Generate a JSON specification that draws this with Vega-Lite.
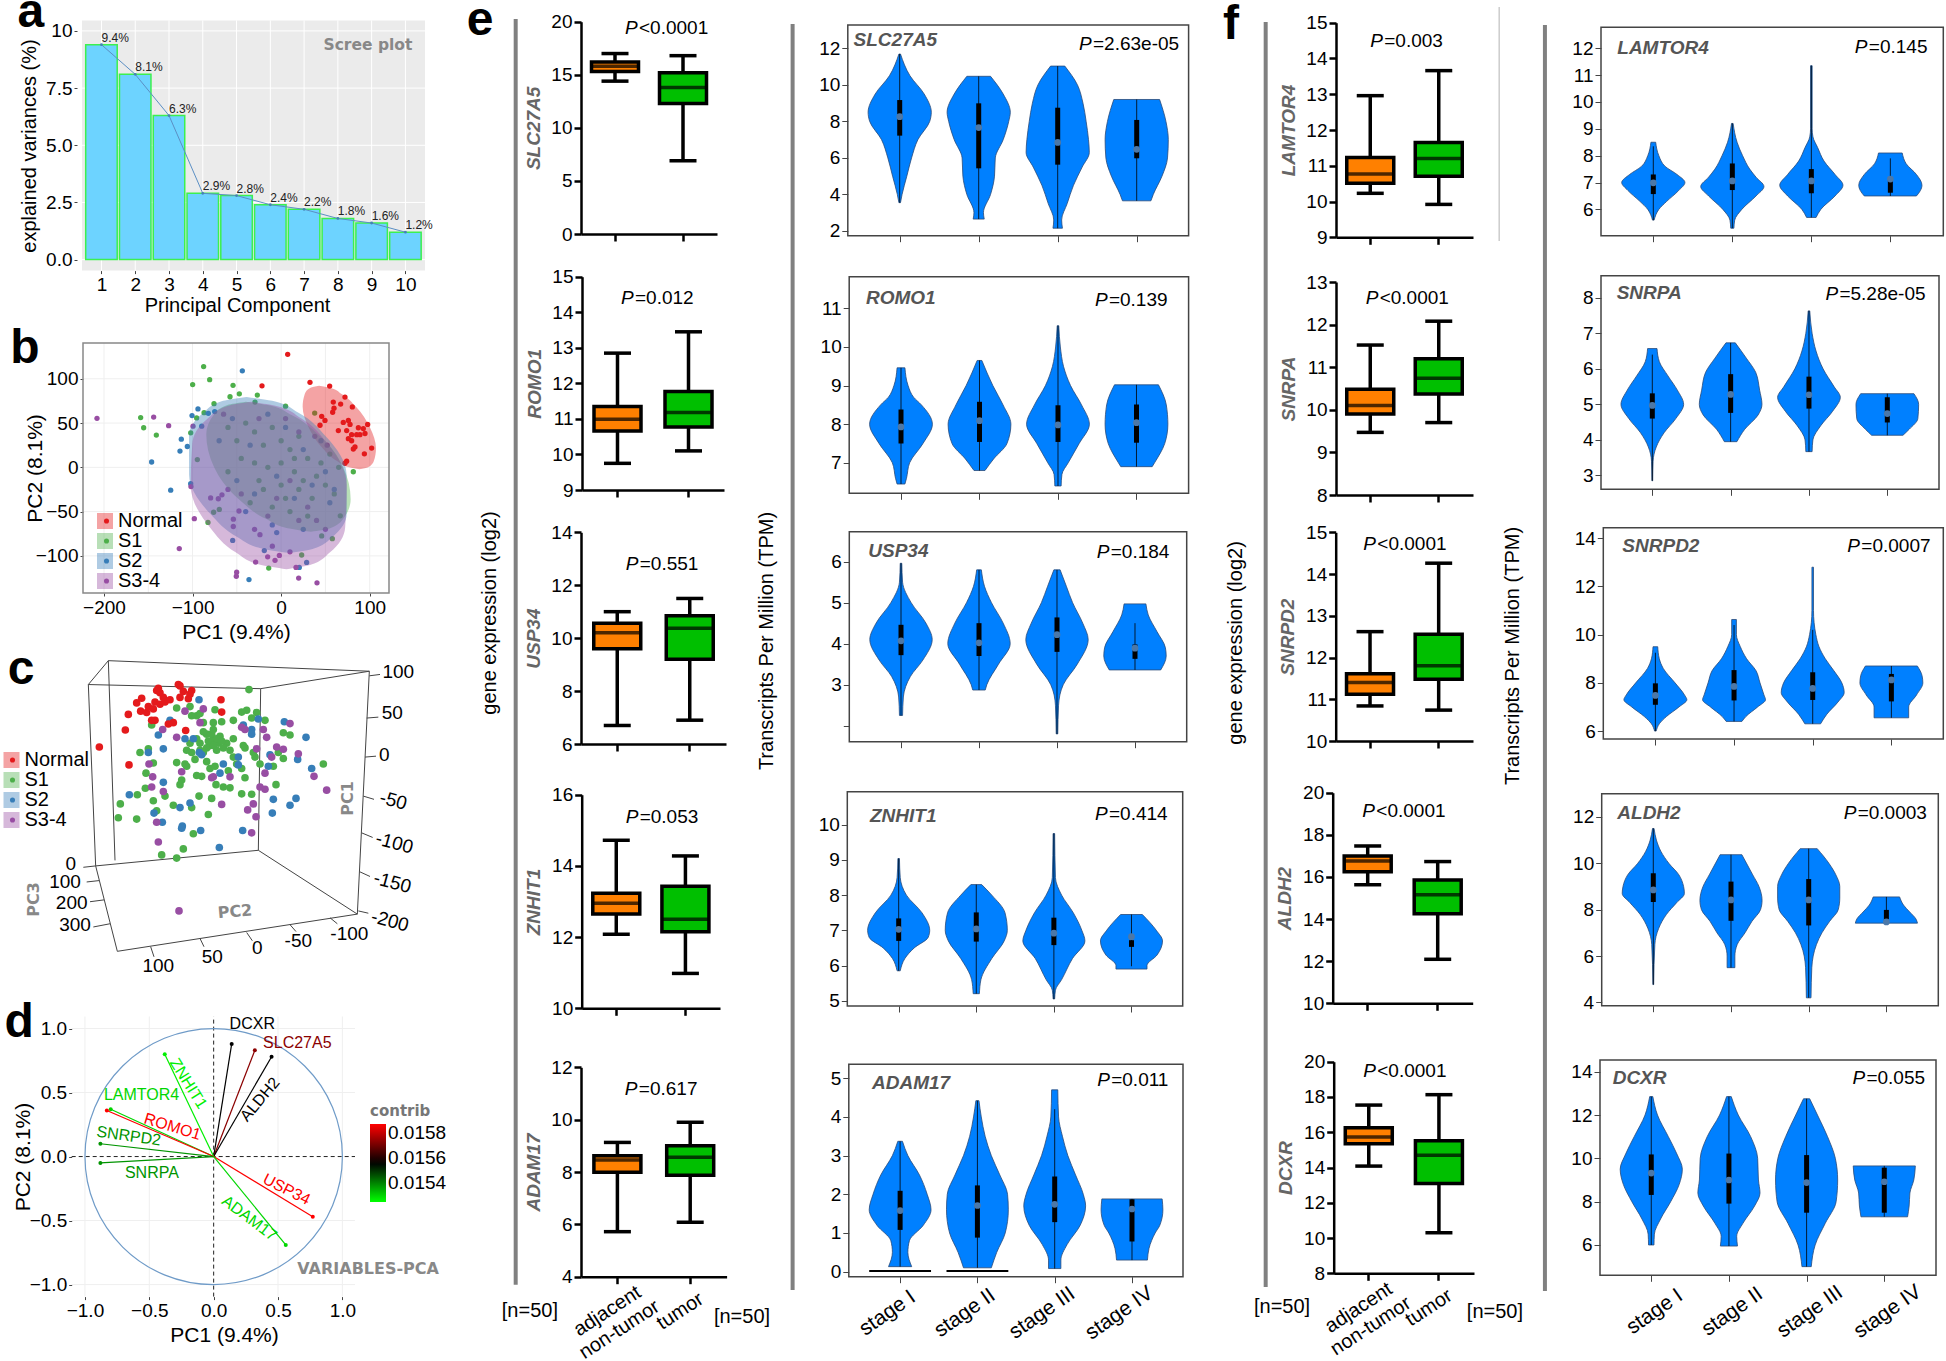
{"$schema":"https://vega.github.io/schema/vega-lite/v6.json","width":1946,"height":1361,"padding":0,"autosize":{"type":"none"},"background":"white",
"config":{"view":{"stroke":null},"font":"Liberation Sans","text":{"fontSize":19},
"axis":{"labelFontSize":19,"titleFontSize":19,"titleFontWeight":"normal","labelColor":"#000","titleColor":"#000","domainColor":"#000","tickColor":"#000","domainWidth":2.5,"tickWidth":2.5,"tickSize":7,"grid":false,"labelPadding":2},
"axisLeft":{"titleX":-38},
"boxplot":{"extent":"min-max","size":47,"box":{"stroke":"#000","strokeWidth":3.5},"median":{"color":"#000","thickness":3.5},"rule":{"color":"#000","strokeWidth":3.5},"ticks":{"color":"#000","size":27,"thickness":3.5}},
"area":{"fill":"#0080FF","stroke":"#2a4a78","strokeWidth":0.8,"orient":"horizontal","interpolate":"monotone"},
"style":{"va":{"domain":false,"tickWidth":1,"tickSize":6,"tickColor":"#444"},"ga":{"domain":false,"tickWidth":1,"tickSize":3,"tickColor":"#444"},"bxa":{"titleFontStyle":"italic","titleFontWeight":"bold","titleColor":"#666"},
"thin":{"stroke":"#111","strokeWidth":0.8},"thick":{"stroke":"#000","strokeWidth":5},"med":{"fill":"#fff","size":45,"opacity":1},
"gn":{"fontStyle":"italic","fontWeight":"bold","fontSize":20,"color":"#555","align":"left"},"pi":{"fontStyle":"italic","fontSize":21,"align":"left"},"pv":{"fontSize":21,"align":"left","dx":14}}},
"resolve":{"scale":{"x":"independent","y":"independent","color":"independent","fill":"independent","stroke":"independent"},"axis":{"x":"independent","y":"independent"},"legend":{"color":"independent","fill":"independent","stroke":"independent"}},
"layer":[
{"encoding":{"x":{"field":"px","type":"quantitative","scale":{"domain":[0,100],"range":[0,1946]},"axis":null},"y":{"field":"py","type":"quantitative","scale":{"domain":[0,100],"range":[0,1361]},"axis":null}},
"layer":[
{"data":{"values":[{"px":26.5,"py":1.4,"p2":94.4},{"px":40.73,"py":1.76,"p2":94.78},{"px":65.04,"py":1.62,"p2":94.56},{"px":79.39,"py":1.84,"p2":94.86}]},"mark":{"type":"rule","stroke":"#808080","strokeWidth":4},"encoding":{"y2":{"field":"p2"}}},
{"data":{"values":[{"px":77.04,"py":0.51,"p2":17.7}]},"mark":{"type":"rule","stroke":"#ccc","strokeWidth":1.5},"encoding":{"y2":{"field":"p2"}}},
{"data":{"values":[{"px":1.59,"py":1.98,"t":"a"},{"px":1.28,"py":26.67,"t":"b"},{"px":1.08,"py":50.26,"t":"c"},{"px":0.98,"py":76.2,"t":"d"},{"px":24.67,"py":2.57,"t":"e"},{"px":63.26,"py":2.87,"t":"f"}]},"mark":{"type":"text","fontSize":48,"fontWeight":"bold","baseline":"alphabetic"},"encoding":{"text":{"field":"t"}}},
{"data":{"values":[{"px":27.23,"py":96.33},{"px":38.13,"py":96.77},{"px":65.88,"py":96.03},{"px":76.82,"py":96.4}]},"mark":{"type":"text","fontSize":20},"encoding":{"text":{"value":"[n=50]"}}},
{"data":{"values":[{"px":25.18,"py":45.04,"t":"gene expression (log2)"},{"px":39.41,"py":47.1,"t":"Transcripts Per Million (TPM)"},{"px":63.51,"py":47.24,"t":"gene expression (log2)"},{"px":77.75,"py":48.2,"t":"Transcripts Per Million (TPM)"}]},"mark":{"type":"text","fontSize":20,"angle":270},"encoding":{"text":{"field":"t"}}}
]},
{"encoding":{"x":{"field":"x","type":"quantitative","scale":{"domain":[0.424,10.58],"range":[77,430]},"axis":{"orient":"bottom","offset":-1090.4,"title":"Principal Component","titleFontSize":20,"titleX":237,"titlePadding":1,"values":[1,2,3,4,5,6,7,8,9,10],"style":"ga"}},"y":{"field":"y","type":"quantitative","scale":{"domain":[-0.48,10.46],"range":[270.6,20.4]},"axis":{"orient":"left","offset":-77,"title":"explained variances (%)","titleFontSize":20,"values":[0,2.5,5,7.5,10],"format":".1f","labelExpr":"datum.value==10?'10':datum.label","style":"ga"}}},
"layer":[
{"data":{"values":[{"x":0.424,"x2":10.58,"y":-0.48,"y2":10.46}]},"mark":{"type":"rect","fill":"#EBEBEB"},"encoding":{"x2":{"field":"x2"},"y2":{"field":"y2"}}},
{"data":{"values":[{"x":1,"x2":1,"y":-0.48,"y2":10.46},{"x":2,"x2":2,"y":-0.48,"y2":10.46},{"x":3,"x2":3,"y":-0.48,"y2":10.46},{"x":4,"x2":4,"y":-0.48,"y2":10.46},{"x":5,"x2":5,"y":-0.48,"y2":10.46},{"x":6,"x2":6,"y":-0.48,"y2":10.46},{"x":7,"x2":7,"y":-0.48,"y2":10.46},{"x":8,"x2":8,"y":-0.48,"y2":10.46},{"x":9,"x2":9,"y":-0.48,"y2":10.46},{"x":10,"x2":10,"y":-0.48,"y2":10.46},{"x":0.424,"x2":10.58,"y":0,"y2":0},{"x":0.424,"x2":10.58,"y":2.5,"y2":2.5},{"x":0.424,"x2":10.58,"y":5,"y2":5},{"x":0.424,"x2":10.58,"y":7.5,"y2":7.5},{"x":0.424,"x2":10.58,"y":10,"y2":10}]},"mark":{"type":"rule","stroke":"#fff","strokeWidth":1},"encoding":{"x2":{"field":"x2"},"y2":{"field":"y2"}}},
{"data":{"values":[{"x":1,"y":9.4,"t":"9.4%"},{"x":2,"y":8.1,"t":"8.1%"},{"x":3,"y":6.3,"t":"6.3%"},{"x":4,"y":2.9,"t":"2.9%"},{"x":5,"y":2.8,"t":"2.8%"},{"x":6,"y":2.4,"t":"2.4%"},{"x":7,"y":2.2,"t":"2.2%"},{"x":8,"y":1.8,"t":"1.8%"},{"x":9,"y":1.6,"t":"1.6%"},{"x":10,"y":1.2,"t":"1.2%"}]},
"layer":[{"mark":{"type":"bar","orient":"vertical","size":31.5,"fill":"#6DD3FF","stroke":"#3CF04F","strokeWidth":1.5}},{"mark":{"type":"line","stroke":"#5b8fc4","strokeWidth":1}},{"mark":{"type":"circle","size":8,"fill":"#4682b4","opacity":1}},{"mark":{"type":"text","fontSize":12,"align":"left","dy":-7,"fill":"#222"},"encoding":{"text":{"field":"t"}}}]},
{"data":{"values":[{"x":8.89,"y":9.39}]},"mark":{"type":"text","font":"DejaVu Sans","fontWeight":"bold","fontSize":15.5,"fill":"#888"},"encoding":{"text":{"value":"Scree plot"}}}
]},
{"encoding":{"x":{"field":"x","type":"quantitative","scale":{"domain":[-223.7,121.8],"range":[83,389]},"axis":{"orient":"bottom","offset":-768,"title":"PC1 (9.4%)","titleFontSize":21,"values":[-200,-100,0,100],"style":"ga"}},"y":{"field":"y","type":"quantitative","scale":{"domain":[-141.9,140.5],"range":[593,342.9]},"axis":{"orient":"left","offset":-83,"title":"PC2 (8.1%)","titleFontSize":21,"values":[-100,-50,0,50,100],"style":"ga"}}},
"layer":[
{"data":{"values":[{"x":-200,"x2":-200,"y":-141.9,"y2":140.5},{"x":-150,"x2":-150,"y":-141.9,"y2":140.5},{"x":-100,"x2":-100,"y":-141.9,"y2":140.5},{"x":-50,"x2":-50,"y":-141.9,"y2":140.5},{"x":0,"x2":0,"y":-141.9,"y2":140.5},{"x":50,"x2":50,"y":-141.9,"y2":140.5},{"x":100,"x2":100,"y":-141.9,"y2":140.5},{"x":-223.7,"x2":121.8,"y":-100,"y2":-100},{"x":-223.7,"x2":121.8,"y":-50,"y2":-50},{"x":-223.7,"x2":121.8,"y":0,"y2":0},{"x":-223.7,"x2":121.8,"y":50,"y2":50},{"x":-223.7,"x2":121.8,"y":100,"y2":100}]},"mark":{"type":"rule","stroke":"#efefef","strokeWidth":1},"encoding":{"x2":{"field":"x2"},"y2":{"field":"y2"}}},
{"data":{"values":[{"g":"Normal","x":7.4,"y":127.6},{"g":"Normal","x":32.6,"y":96},{"g":"Normal","x":54.8,"y":91.7},{"g":"Normal","x":-21.6,"y":92},{"g":"Normal","x":45.8,"y":57.6},{"g":"Normal","x":49.5,"y":53},{"g":"Normal","x":43.9,"y":47.5},{"g":"Normal","x":58.9,"y":73.7},{"g":"Normal","x":59.7,"y":66.8},{"g":"Normal","x":67.2,"y":71.4},{"g":"Normal","x":72.1,"y":79.3},{"g":"Normal","x":80.4,"y":68.2},{"g":"Normal","x":58.2,"y":62.2},{"g":"Normal","x":64.6,"y":41.5},{"g":"Normal","x":70.2,"y":50.7},{"g":"Normal","x":75.9,"y":53},{"g":"Normal","x":77.8,"y":48.4},{"g":"Normal","x":74,"y":41.5},{"g":"Normal","x":75.9,"y":32.3},{"g":"Normal","x":79.6,"y":36.9},{"g":"Normal","x":87.2,"y":44.7},{"g":"Normal","x":92.8,"y":43.8},{"g":"Normal","x":97.7,"y":48.4},{"g":"Normal","x":94.7,"y":38.2},{"g":"Normal","x":85.3,"y":36.9},{"g":"Normal","x":89,"y":36.9},{"g":"Normal","x":83.4,"y":23},{"g":"Normal","x":81.5,"y":20.7},{"g":"Normal","x":94,"y":15.2},{"g":"Normal","x":102.2,"y":21.7},{"g":"Normal","x":74,"y":6.9},{"g":"Normal","x":72.1,"y":4.6},{"g":"Normal","x":79.6,"y":30},
{"g":"S1","x":-87.5,"y":113.8},{"g":"S1","x":-99.9,"y":93.5},{"g":"S1","x":-80.7,"y":99},{"g":"S1","x":-54.3,"y":92.6},{"g":"S1","x":-57.7,"y":79.7},{"g":"S1","x":-47.2,"y":83},{"g":"S1","x":-26.9,"y":81.6},{"g":"S1","x":-75.8,"y":71.9},{"g":"S1","x":-87,"y":61.7},{"g":"S1","x":-95.4,"y":55.8},{"g":"S1","x":-102.1,"y":39},{"g":"S1","x":-158.6,"y":56.2},{"g":"S1","x":-155.2,"y":44.7},{"g":"S1","x":-140.9,"y":36.4},{"g":"S1","x":-94.6,"y":8.8},{"g":"S1","x":-82.6,"y":-62.2},{"g":"S1","x":-76.2,"y":-50.7},{"g":"S1","x":-69.8,"y":-47.5},{"g":"S1","x":81.5,"y":-5},{"g":"S1","x":66.8,"y":-54.8},{"g":"S1","x":57.8,"y":-80.6},{"g":"S1","x":45.8,"y":-77.4},{"g":"S1","x":23.2,"y":-99},{"g":"S1","x":-14,"y":-113.8},{"g":"S1","x":37.9,"y":61.3},{"g":"S1","x":5,"y":69},{"g":"S1","x":-29.5,"y":73.7},{"g":"S1","x":-60,"y":45},{"g":"S1","x":-50,"y":30},{"g":"S1","x":-40,"y":50},{"g":"S1","x":-30,"y":40},{"g":"S1","x":-20,"y":25},{"g":"S1","x":-10,"y":45},{"g":"S1","x":0,"y":30},{"g":"S1","x":10,"y":20},{"g":"S1","x":20,"y":35},{"g":"S1","x":-45,"y":10},{"g":"S1","x":-30,"y":5},{"g":"S1","x":-15,"y":0},{"g":"S1","x":0,"y":5},{"g":"S1","x":15,"y":-5},{"g":"S1","x":30,"y":10},{"g":"S1","x":40,"y":-10},{"g":"S1","x":55,"y":15},{"g":"S1","x":65,"y":0},{"g":"S1","x":-60,"y":-5},{"g":"S1","x":-20,"y":-25},{"g":"S1","x":0,"y":-20},{"g":"S1","x":20,"y":-25},{"g":"S1","x":35,"y":-35},{"g":"S1","x":50,"y":-20},{"g":"S1","x":-35,"y":-40},{"g":"S1","x":-10,"y":-45},{"g":"S1","x":10,"y":-50},{"g":"S1","x":30,"y":-55},{"g":"S1","x":60,"y":-30},{"g":"S1","x":15,"y":10},{"g":"S1","x":5,"y":-35},{"g":"S1","x":-25,"y":-15},{"g":"S1","x":45,"y":5},{"g":"S1","x":25,"y":-15},
{"g":"S2","x":-43.8,"y":109},{"g":"S2","x":-93.9,"y":65.9},{"g":"S2","x":-100.6,"y":58.5},{"g":"S2","x":-82.2,"y":61},{"g":"S2","x":-75,"y":63},{"g":"S2","x":-89.7,"y":46.5},{"g":"S2","x":-112.7,"y":31.8},{"g":"S2","x":-114.2,"y":18.4},{"g":"S2","x":-105.9,"y":23.5},{"g":"S2","x":-146.2,"y":6},{"g":"S2","x":-124.7,"y":-25.8},{"g":"S2","x":-102.1,"y":-18.4},{"g":"S2","x":-36.3,"y":-126.7},{"g":"S2","x":-54.7,"y":-82.5},{"g":"S2","x":28.8,"y":-107.4},{"g":"S2","x":20.5,"y":-113},{"g":"S2","x":-19,"y":-94},{"g":"S2","x":-5,"y":-73.7},{"g":"S2","x":-70,"y":30},{"g":"S2","x":-55,"y":55},{"g":"S2","x":-35,"y":25},{"g":"S2","x":-15,"y":60},{"g":"S2","x":5,"y":45},{"g":"S2","x":25,"y":20},{"g":"S2","x":45,"y":30},{"g":"S2","x":60,"y":-25},{"g":"S2","x":-50,"y":-15},{"g":"S2","x":-30,"y":-30},{"g":"S2","x":-5,"y":-10},{"g":"S2","x":15,"y":-35},{"g":"S2","x":35,"y":-20},{"g":"S2","x":-40,"y":-50},{"g":"S2","x":-10,"y":-65},{"g":"S2","x":25,"y":-70},{"g":"S2","x":50,"y":-5},{"g":"S2","x":55,"y":-40},
{"g":"S3-4","x":-207.9,"y":55.3},{"g":"S3-4","x":-143.9,"y":56.7},{"g":"S3-4","x":-127,"y":47},{"g":"S3-4","x":-99.5,"y":46.5},{"g":"S3-4","x":-98,"y":-58},{"g":"S3-4","x":-115,"y":-91.7},{"g":"S3-4","x":-50.2,"y":-118.4},{"g":"S3-4","x":-50.6,"y":-123},{"g":"S3-4","x":19.8,"y":-125},{"g":"S3-4","x":40.5,"y":-130.4},{"g":"S3-4","x":16.8,"y":-113},{"g":"S3-4","x":-28.8,"y":-107},{"g":"S3-4","x":-6.9,"y":-105},{"g":"S3-4","x":-2,"y":-99.5},{"g":"S3-4","x":-15.2,"y":-101},{"g":"S3-4","x":-9.9,"y":-89},{"g":"S3-4","x":10,"y":-95.4},{"g":"S3-4","x":-23.9,"y":-76},{"g":"S3-4","x":-54,"y":-66.8},{"g":"S3-4","x":-53.9,"y":-58.5},{"g":"S3-4","x":-47.6,"y":-49.3},{"g":"S3-4","x":-66.8,"y":-31},{"g":"S3-4","x":-70.9,"y":-35.5},{"g":"S3-4","x":-79.6,"y":-34.6},{"g":"S3-4","x":-101.8,"y":-21.7},{"g":"S3-4","x":-65,"y":60},{"g":"S3-4","x":-45,"y":-30},{"g":"S3-4","x":-25,"y":55},{"g":"S3-4","x":5,"y":55},{"g":"S3-4","x":20,"y":40},{"g":"S3-4","x":38,"y":35},{"g":"S3-4","x":52,"y":25},{"g":"S3-4","x":-15,"y":-55},{"g":"S3-4","x":10,"y":-15},{"g":"S3-4","x":30,"y":-45},{"g":"S3-4","x":-5,"y":-35},{"g":"S3-4","x":-60,"y":-25},{"g":"S3-4","x":20,"y":-60},{"g":"S3-4","x":40,"y":-60},{"g":"S3-4","x":-30,"y":-70},{"g":"S3-4","x":50,"y":-70}]},
"mark":{"type":"circle","size":28,"opacity":1},"encoding":{"fill":{"field":"g","type":"nominal","scale":{"range":["#e41a1c","#4daf4a","#377eb8","#984ea3"]},"legend":{"orient":"none","legendX":96.5,"legendY":511,"title":null,"symbolType":"circle","symbolSize":26,"labelExpr":"''","labelFontSize":20,"rowPadding":-4.5}}}},
{"data":{"values":[{"g":"Normal","y":-2.2,"a":88.5,"b":88.5},{"g":"Normal","y":0.2,"a":76.6,"b":98.2},{"g":"Normal","y":7.2,"a":63.1,"b":104.7},{"g":"Normal","y":21.4,"a":47.1,"b":107.1},{"g":"Normal","y":45,"a":31.1,"b":100.3},{"g":"Normal","y":68.6,"a":24.3,"b":84.3},{"g":"Normal","y":82.8,"a":26.7,"b":68.3},{"g":"Normal","y":89.8,"a":33.2,"b":54.8},{"g":"Normal","y":92.2,"a":42.9,"b":42.9},
{"g":"S1","y":-72.8,"a":33.7,"b":33.7},{"g":"S1","y":-69.1,"a":9.2,"b":54.6},{"g":"S1","y":-58.1,"a":-17.3,"b":70.1},{"g":"S1","y":-36.1,"a":-47.7,"b":78.5},{"g":"S1","y":0.6,"a":-75.9,"b":69.9},{"g":"S1","y":37.3,"a":-84.5,"b":41.7},{"g":"S1","y":59.3,"a":-76.1,"b":11.3},{"g":"S1","y":70.3,"a":-60.6,"b":-15.2},{"g":"S1","y":74,"a":-39.7,"b":-39.7},
{"g":"S2","y":-96.5,"a":9,"b":9},{"g":"S2","y":-92.1,"a":-19.9,"b":35.5},{"g":"S2","y":-78.9,"a":-49.1,"b":57.5},{"g":"S2","y":-52.5,"a":-80,"b":74},{"g":"S2","y":-8.5,"a":-103.9,"b":73.9},{"g":"S2","y":35.5,"a":-104,"b":50},{"g":"S2","y":61.9,"a":-87.5,"b":19.1},{"g":"S2","y":75.1,"a":-65.5,"b":-10.1},{"g":"S2","y":79.5,"a":-39,"b":-39},
{"g":"S3-4","y":-115,"a":6,"b":6},{"g":"S3-4","y":-110.3,"a":-22.5,"b":32.5},{"g":"S3-4","y":-96.1,"a":-50.9,"b":54.9},{"g":"S3-4","y":-67.8,"a":-80.3,"b":72.3},{"g":"S3-4","y":-20.5,"a":-102.1,"b":74.1},{"g":"S3-4","y":26.8,"a":-100.3,"b":52.3},{"g":"S3-4","y":55.1,"a":-82.9,"b":22.9},{"g":"S3-4","y":69.3,"a":-60.5,"b":-5.5},{"g":"S3-4","y":74,"a":-34,"b":-34}]},
"mark":{"type":"area","stroke":null,"opacity":0.4},"encoding":{"x":{"field":"a","type":"quantitative"},"x2":{"field":"b"},"color":{"field":"g","type":"nominal","scale":{"range":["#e41a1c","#4daf4a","#377eb8","#984ea3"]},"legend":{"orient":"none","legendX":95,"legendY":511,"title":null,"symbolType":"square","symbolSize":256,"symbolOpacity":0.4,"labelFontSize":20,"labelOffset":3,"rowPadding":-4.5}}}},
{"data":{"values":[{"x":-223.7,"x2":121.8,"y":-141.9,"y2":140.5}]},"mark":{"type":"rect","fill":null,"stroke":"#888","strokeWidth":1.5},"encoding":{"x2":{"field":"x2"},"y2":{"field":"y2"}}}
]},
{"encoding":{"x":{"field":"u","type":"quantitative","scale":{"domain":[0,1380],"range":[0,460]},"axis":null},"y":{"field":"v","type":"quantitative","scale":{"domain":[0,720],"range":[640,970.6]},"axis":null}},
"layer":[
{"data":{"values":[{"u":265,"v":97,"u2":782,"v2":106},{"u":265,"v":97,"u2":325,"v2":45},{"u":325,"v":45,"u2":1108,"v2":68},{"u":782,"v":106,"u2":1108,"v2":68},{"u":782,"v":106,"u2":775,"v2":458},{"u":265,"v":97,"u2":287,"v2":492},{"u":325,"v":45,"u2":345,"v2":480},{"u":287,"v":492,"u2":775,"v2":458},{"u":775,"v":458,"u2":1072,"v2":597},{"u":1108,"v":68,"u2":1072,"v2":597},{"u":287,"v":492,"u2":352,"v2":678},{"u":352,"v":678,"u2":1072,"v2":597},{"u":1108,"v":78,"u2":1140,"v2":75},{"u":1100,"v":170,"u2":1135,"v2":168},{"u":1095,"v":255,"u2":1128,"v2":253},{"u":1090,"v":340,"u2":1122,"v2":347},{"u":1085,"v":420,"u2":1118,"v2":430},{"u":1080,"v":505,"u2":1110,"v2":515},{"u":1075,"v":590,"u2":1105,"v2":595},{"u":250,"v":495,"u2":287,"v2":492},{"u":260,"v":527,"u2":297,"v2":524},{"u":270,"v":570,"u2":312,"v2":566},{"u":280,"v":625,"u2":330,"v2":618},{"u":452,"v":668,"u2":462,"v2":690},{"u":600,"v":650,"u2":612,"v2":668},{"u":740,"v":637,"u2":757,"v2":655},{"u":870,"v":620,"u2":888,"v2":635},{"u":990,"v":605,"u2":1012,"v2":618}]},"mark":{"type":"rule","stroke":"#444","strokeWidth":1},"encoding":{"x2":{"field":"u2"},"y2":{"field":"v2"}}},
{"data":{"values":[{"g":"S1","u":747,"v":108},{"g":"S1","u":740,"v":153},{"g":"S1","u":725,"v":157},{"g":"S1","u":770,"v":158},{"g":"S1","u":755,"v":170},{"g":"S1","u":700,"v":175},{"g":"S1","u":665,"v":178},{"g":"S1","u":640,"v":180},{"g":"S1","u":645,"v":152},{"g":"S1","u":590,"v":165},{"g":"S1","u":600,"v":160},{"g":"S1","u":570,"v":145},{"g":"S1","u":530,"v":148},{"g":"S1","u":455,"v":185},{"g":"S1","u":420,"v":245},{"g":"S1","u":445,"v":237},{"g":"S1","u":460,"v":268},{"g":"S1","u":438,"v":290},{"g":"S1","u":436,"v":323},{"g":"S1","u":412,"v":337},{"g":"S1","u":361,"v":357},{"g":"S1","u":355,"v":387},{"g":"S1","u":410,"v":390},{"g":"S1","u":460,"v":350},{"g":"S1","u":470,"v":372},{"g":"S1","u":495,"v":340},{"g":"S1","u":520,"v":360},{"g":"S1","u":575,"v":365},{"g":"S1","u":597,"v":340},{"g":"S1","u":635,"v":345},{"g":"S1","u":625,"v":380},{"g":"S1","u":580,"v":422},{"g":"S1","u":550,"v":455},{"g":"S1","u":530,"v":475},{"g":"S1","u":485,"v":468},{"g":"S1","u":725,"v":335},{"g":"S1","u":755,"v":336},{"g":"S1","u":690,"v":322},{"g":"S1","u":670,"v":320},{"g":"S1","u":648,"v":315},{"g":"S1","u":605,"v":297},{"g":"S1","u":590,"v":295},{"g":"S1","u":560,"v":275},{"g":"S1","u":530,"v":267},{"g":"S1","u":540,"v":315},{"g":"S1","u":545,"v":305},{"g":"S1","u":600,"v":240},{"g":"S1","u":620,"v":205},{"g":"S1","u":640,"v":215},{"g":"S1","u":660,"v":210},{"g":"S1","u":650,"v":240},{"g":"S1","u":680,"v":225},{"g":"S1","u":620,"v":235},{"g":"S1","u":575,"v":245},{"g":"S1","u":560,"v":240},{"g":"S1","u":570,"v":225},{"g":"S1","u":610,"v":200},{"g":"S1","u":630,"v":230},{"g":"S1","u":655,"v":225},{"g":"S1","u":700,"v":255},{"g":"S1","u":735,"v":235},{"g":"S1","u":765,"v":255},{"g":"S1","u":780,"v":270},{"g":"S1","u":820,"v":275},{"g":"S1","u":850,"v":258},{"g":"S1","u":828,"v":315},{"g":"S1","u":835,"v":245},{"g":"S1","u":850,"v":202},{"g":"S1","u":870,"v":207},{"g":"S1","u":970,"v":270},{"g":"S1","u":795,"v":175},{"g":"S1","u":710,"v":270},{"g":"S1","u":735,"v":300},{"g":"S1","u":630,"v":280},{"g":"S1","u":590,"v":215},{"g":"S1","u":600,"v":225},{"g":"S1","u":635,"v":205},{"g":"S1","u":650,"v":215},{"g":"S1","u":665,"v":220},{"g":"S1","u":625,"v":220},{"g":"S1","u":640,"v":230},{"g":"S1","u":670,"v":235},{"g":"S1","u":690,"v":240},{"g":"S1","u":610,"v":245},{"g":"S1","u":585,"v":260},{"g":"S1","u":620,"v":265},{"g":"S1","u":645,"v":275},{"g":"S1","u":685,"v":285},{"g":"S1","u":725,"v":280},{"g":"S1","u":760,"v":245},{"g":"S1","u":555,"v":270},{"g":"S1","u":640,"v":195},{"g":"S1","u":700,"v":215},{"g":"S1","u":730,"v":230},{"g":"S1","u":575,"v":165},{"g":"S1","u":610,"v":180},
{"g":"S2","u":597,"v":130},{"g":"S2","u":475,"v":207},{"g":"S2","u":490,"v":237},{"g":"S2","u":445,"v":245},{"g":"S2","u":388,"v":337},{"g":"S2","u":462,"v":377},{"g":"S2","u":487,"v":397},{"g":"S2","u":547,"v":405},{"g":"S2","u":545,"v":410},{"g":"S2","u":602,"v":415},{"g":"S2","u":658,"v":452},{"g":"S2","u":728,"v":415},{"g":"S2","u":817,"v":377},{"g":"S2","u":870,"v":360},{"g":"S2","u":888,"v":345},{"g":"S2","u":820,"v":347},{"g":"S2","u":935,"v":280},{"g":"S2","u":918,"v":212},{"g":"S2","u":893,"v":260},{"g":"S2","u":853,"v":178},{"g":"S2","u":775,"v":172},{"g":"S2","u":755,"v":195},{"g":"S2","u":810,"v":250},{"g":"S2","u":805,"v":275},{"g":"S2","u":715,"v":272},{"g":"S2","u":660,"v":290},{"g":"S2","u":605,"v":250},{"g":"S2","u":555,"v":215},{"g":"S2","u":570,"v":355},{"g":"S2","u":540,"v":365},{"g":"S2","u":490,"v":310},{"g":"S2","u":755,"v":205},{"g":"S2","u":730,"v":185},{"g":"S2","u":580,"v":215},{"g":"S2","u":510,"v":175},{"g":"S2","u":598,"v":245},{"g":"S2","u":715,"v":255},{"g":"S2","u":670,"v":270},
{"g":"S3-4","u":537,"v":590},{"g":"S3-4","u":475,"v":440},{"g":"S3-4","u":470,"v":397},{"g":"S3-4","u":755,"v":420},{"g":"S3-4","u":768,"v":385},{"g":"S3-4","u":743,"v":370},{"g":"S3-4","u":760,"v":357},{"g":"S3-4","u":665,"v":358},{"g":"S3-4","u":490,"v":330},{"g":"S3-4","u":455,"v":320},{"g":"S3-4","u":447,"v":270},{"g":"S3-4","u":458,"v":298},{"g":"S3-4","u":488,"v":195},{"g":"S3-4","u":530,"v":212},{"g":"S3-4","u":555,"v":155},{"g":"S3-4","u":610,"v":150},{"g":"S3-4","u":600,"v":180},{"g":"S3-4","u":725,"v":190},{"g":"S3-4","u":790,"v":195},{"g":"S3-4","u":800,"v":212},{"g":"S3-4","u":770,"v":237},{"g":"S3-4","u":830,"v":233},{"g":"S3-4","u":850,"v":238},{"g":"S3-4","u":895,"v":248},{"g":"S3-4","u":815,"v":255},{"g":"S3-4","u":795,"v":290},{"g":"S3-4","u":780,"v":320},{"g":"S3-4","u":795,"v":325},{"g":"S3-4","u":942,"v":297},{"g":"S3-4","u":980,"v":327},{"g":"S3-4","u":870,"v":182},{"g":"S3-4","u":690,"v":298},{"g":"S3-4","u":635,"v":300},{"g":"S3-4","u":545,"v":287},{"g":"S3-4","u":735,"v":195},{"g":"S3-4","u":640,"v":298},
{"g":"Normal","u":298,"v":233},{"g":"Normal","u":387,"v":272},{"g":"Normal","u":376,"v":196},{"g":"Normal","u":385,"v":162},{"g":"Normal","u":410,"v":137},{"g":"Normal","u":425,"v":127},{"g":"Normal","u":422,"v":155},{"g":"Normal","u":440,"v":158},{"g":"Normal","u":445,"v":145},{"g":"Normal","u":460,"v":150},{"g":"Normal","u":470,"v":110},{"g":"Normal","u":480,"v":115},{"g":"Normal","u":490,"v":125},{"g":"Normal","u":465,"v":135},{"g":"Normal","u":480,"v":140},{"g":"Normal","u":495,"v":135},{"g":"Normal","u":510,"v":130},{"g":"Normal","u":540,"v":100},{"g":"Normal","u":535,"v":97},{"g":"Normal","u":550,"v":112},{"g":"Normal","u":575,"v":110},{"g":"Normal","u":565,"v":128},{"g":"Normal","u":570,"v":118},{"g":"Normal","u":540,"v":125},{"g":"Normal","u":520,"v":180},{"g":"Normal","u":505,"v":183},{"g":"Normal","u":465,"v":175},{"g":"Normal","u":455,"v":175},{"g":"Normal","u":557,"v":197},{"g":"Normal","u":663,"v":130},{"g":"Normal","u":665,"v":157},{"g":"Normal","u":475,"v":105}]},
"mark":{"type":"circle","size":58,"opacity":1},"encoding":{"fill":{"field":"g","type":"nominal","scale":{"domain":["Normal","S1","S2","S3-4"],"range":["#e41a1c","#4daf4a","#377eb8","#984ea3"]},"legend":{"orient":"none","legendX":2.5,"legendY":750,"title":null,"symbolType":"circle","symbolSize":26,"labelExpr":"''","labelFontSize":20,"rowPadding":-4.5}}}},
{"data":{"values":[{"g":"Normal","u":5,"v":5},{"g":"S1","u":5,"v":5},{"g":"S2","u":5,"v":5},{"g":"S3-4","u":5,"v":5}]},"mark":{"type":"square","opacity":0},"encoding":{"color":{"field":"g","type":"nominal","scale":{"range":["#e41a1c","#4daf4a","#377eb8","#984ea3"]},"legend":{"orient":"none","legendX":1.5,"legendY":750,"title":null,"symbolType":"square","symbolSize":256,"symbolOpacity":0.4,"labelFontSize":20,"labelOffset":3,"rowPadding":-4.5}}}},
{"data":{"values":[{"u":1195,"v":70,"t":"100"},{"u":1177,"v":160,"t":"50"},{"u":1153,"v":250,"t":"0"},{"u":212,"v":487,"t":"0"},{"u":195,"v":527,"t":"100"},{"u":215,"v":572,"t":"200"},{"u":225,"v":620,"t":"300"},{"u":475,"v":710,"t":"100"},{"u":637,"v":690,"t":"50"},{"u":772,"v":670,"t":"0"},{"u":895,"v":655,"t":"-50"},{"u":1048,"v":640,"t":"-100"}]},"mark":{"type":"text"},"encoding":{"text":{"field":"t"}}},
{"data":{"values":[{"u":1180,"v":350,"t":"-50"},{"u":1183,"v":442,"t":"-100"},{"u":1177,"v":528,"t":"-150"},{"u":1170,"v":612,"t":"-200"}]},"mark":{"type":"text","angle":15},"encoding":{"text":{"field":"t"}}},
{"data":{"values":[{"u":1045,"v":345,"t":"PC1"},{"u":103,"v":565,"t":"PC3"}]},"mark":{"type":"text","angle":270,"font":"DejaVu Sans","fontWeight":"bold","fontSize":16,"fill":"#888"},"encoding":{"text":{"field":"t"}}},
{"data":{"values":[{"u":705,"v":592,"t":"PC2"}]},"mark":{"type":"text","angle":355,"font":"DejaVu Sans","fontWeight":"bold","fontSize":16,"fill":"#888"},"encoding":{"text":{"field":"t"}}}
]},
{"encoding":{"x":{"field":"x","type":"quantitative","scale":{"domain":[-1.103,1.098],"range":[71.7,355]},"axis":{"orient":"bottom","offset":-64.4,"title":"PC1 (9.4%)","titleFontSize":21,"titleX":224,"values":[-1,-0.5,0,0.5,1],"format":".1f","style":"ga"}},"y":{"field":"y","type":"quantitative","scale":{"domain":[-1.094,1.094],"range":[1296.6,1016.5]},"axis":{"orient":"left","offset":-71.7,"title":"PC2 (8.1%)","titleFontSize":21,"values":[-1,-0.5,0,0.5,1],"format":".1f","style":"ga"}}},
"layer":[
{"data":{"values":[{"x":-1,"x2":-1,"y":-1.094,"y2":1.094},{"x":-0.5,"x2":-0.5,"y":-1.094,"y2":1.094},{"x":0.5,"x2":0.5,"y":-1.094,"y2":1.094},{"x":1,"x2":1,"y":-1.094,"y2":1.094},{"x":-1.103,"x2":1.098,"y":-1,"y2":-1},{"x":-1.103,"x2":1.098,"y":-0.5,"y2":-0.5},{"x":-1.103,"x2":1.098,"y":0.5,"y2":0.5},{"x":-1.103,"x2":1.098,"y":1,"y2":1}]},"mark":{"type":"rule","stroke":"#efefef","strokeWidth":1},"encoding":{"x2":{"field":"x2"},"y2":{"field":"y2"}}},
{"data":{"values":[{"x":0,"x2":0,"y":-1.094,"y2":1.094},{"x":-1.103,"x2":1.098,"y":0,"y2":0}]},"mark":{"type":"rule","stroke":"#222","strokeWidth":1,"strokeDash":[4,3]},"encoding":{"x2":{"field":"x2"},"y2":{"field":"y2"}}},
{"data":{"values":[{"o":0,"x":1,"y":0},{"o":1,"x":0.924,"y":0.383},{"o":2,"x":0.707,"y":0.707},{"o":3,"x":0.383,"y":0.924},{"o":4,"x":0,"y":1},{"o":5,"x":-0.383,"y":0.924},{"o":6,"x":-0.707,"y":0.707},{"o":7,"x":-0.924,"y":0.383},{"o":8,"x":-1,"y":0},{"o":9,"x":-0.924,"y":-0.383},{"o":10,"x":-0.707,"y":-0.707},{"o":11,"x":-0.383,"y":-0.924},{"o":12,"x":0,"y":-1},{"o":13,"x":0.383,"y":-0.924},{"o":14,"x":0.707,"y":-0.707},{"o":15,"x":0.924,"y":-0.383}]},"mark":{"type":"line","stroke":"#6f9bc8","strokeWidth":1.2,"interpolate":"cardinal-closed"},"encoding":{"order":{"field":"o"}}},
{"data":{"values":[{"x":0,"y":0,"x2":0.14,"y2":0.88,"c":0.01556},{"x":0,"y":0,"x2":0.32,"y2":0.83,"c":0.01573},{"x":0,"y":0,"x2":0.45,"y2":0.78,"c":0.01556},{"x":0,"y":0,"x2":-0.38,"y2":0.8,"c":0.01527},{"x":0,"y":0,"x2":-0.8,"y2":0.37,"c":0.0153},{"x":0,"y":0,"x2":-0.83,"y2":0.36,"c":0.01587},{"x":0,"y":0,"x2":-0.88,"y2":0.1,"c":0.01538},{"x":0,"y":0,"x2":-0.88,"y2":-0.05,"c":0.01538},{"x":0,"y":0,"x2":0.77,"y2":-0.47,"c":0.01587},{"x":0,"y":0,"x2":0.56,"y2":-0.69,"c":0.0153}]},
"layer":[{"mark":{"type":"rule","strokeWidth":1.2},"encoding":{"x2":{"field":"x2"},"y2":{"field":"y2"},"stroke":{"field":"c","type":"quantitative","scale":{"domain":[0.01525,0.01556,0.015871],"range":["#00ff00","#000000","#ff0000"],"interpolate":"rgb"},"legend":null}}},
{"mark":{"type":"circle","size":16,"opacity":1},"encoding":{"x":{"field":"x2","type":"quantitative"},"y":{"field":"y2","type":"quantitative"},"color":{"field":"c","type":"quantitative","scale":{"domain":[0.01525,0.01556,0.01587],"range":["#00ff00","#000000","#ff0000"],"interpolate":"rgb"},"legend":{"orient":"none","legendX":370,"legendY":1104,"type":"gradient","title":"contrib","titleColor":"#777","titleFontSize":15,"titleFont":"DejaVu Sans","titleFontWeight":"bold","gradientLength":78,"gradientThickness":16,"labelFontSize":19,"values":[0.0154,0.0156,0.0158],"format":".4f"}}}}]},
{"encoding":{"text":{"field":"t"},"fill":{"field":"c","type":"quantitative","scale":{"domain":[0.01525,0.01556,0.015872],"range":["#00ff00","#000000","#ff0000"],"interpolate":"rgb"},"legend":null}},"layer":[
{"data":{"values":[{"x":0.3,"y":1.036,"t":"DCXR","c":0.01556},{"x":0.65,"y":0.886,"t":"SLC27A5","c":0.01573},{"x":-0.56,"y":0.48,"t":"LAMTOR4","c":0.0153},{"x":-0.48,"y":-0.125,"t":"SNRPA","c":0.01538}]},"mark":{"type":"text","fontSize":16}},
{"data":{"values":[{"x":0.36,"y":0.446,"t":"ALDH2","c":0.01556}]},"mark":{"type":"text","fontSize":16,"angle":310}},
{"data":{"values":[{"x":-0.197,"y":0.57,"t":"ZNHIT1","c":0.01527}]},"mark":{"type":"text","fontSize":16,"angle":58}},
{"data":{"values":[{"x":-0.32,"y":0.232,"t":"ROMO1","c":0.01587}]},"mark":{"type":"text","fontSize":16,"angle":17}},
{"data":{"values":[{"x":-0.66,"y":0.16,"t":"SNRPD2","c":0.01538}]},"mark":{"type":"text","fontSize":16,"angle":8}},
{"data":{"values":[{"x":0.567,"y":-0.257,"t":"USP34","c":0.01587}]},"mark":{"type":"text","fontSize":16,"angle":27}},
{"data":{"values":[{"x":0.277,"y":-0.482,"t":"ADAM17","c":0.0153}]},"mark":{"type":"text","fontSize":16,"angle":37}}]},
{"data":{"values":[{"x":1.2,"y":-0.875}]},"mark":{"type":"text","font":"DejaVu Sans","fontWeight":"bold","fontSize":16,"fill":"#888"},"encoding":{"text":{"value":"VARIABLES-PCA"}}}
]},
{"data":{"values":[{"g":"adjacent","v":14.4},{"g":"adjacent","v":15.3},{"g":"adjacent","v":15.8},{"g":"adjacent","v":16.2},{"g":"adjacent","v":17},{"g":"tumor","v":6.9},{"g":"tumor","v":12.3},{"g":"tumor","v":13.8},{"g":"tumor","v":15.2},{"g":"tumor","v":16.8}]},"encoding":{"x":{"field":"g","type":"nominal","scale":{"type":"band","padding":0,"domain":["adjacent","tumor"],"range":[581,717]},"axis":{"orient":"bottom","offset":-1127,"title":null,"labels":false}},"y":{"field":"v","type":"quantitative","scale":{"domain":[0,20],"range":[234,21.7]},"axis":{"orient":"left","offset":-581,"title":"SLC27A5","style":"bxa","values":[0,5,10,15,20]}}},"layer":[{"mark":"boxplot","encoding":{"color":{"field":"g","type":"nominal","scale":{"range":["#FF8000","#00BF00"]},"legend":null}}},{"data":{"values":[{"g":"adjacent","v":19.44,"t":"<0.0001"}]},"layer":[{"mark":{"type":"text","style":"pi","dx":10},"encoding":{"text":{"value":"P"}}},{"mark":{"type":"text","style":"pv","dx":24},"encoding":{"text":{"field":"t"}}}]}]},
{"data":{"values":[{"g":"adjacent","v":9.75},{"g":"adjacent","v":10.66},{"g":"adjacent","v":10.99},{"g":"adjacent","v":11.35},{"g":"adjacent","v":12.85},{"g":"tumor","v":10.1},{"g":"tumor","v":10.77},{"g":"tumor","v":11.18},{"g":"tumor","v":11.77},{"g":"tumor","v":13.45}]},"encoding":{"x":{"field":"g","type":"nominal","scale":{"type":"band","padding":0,"domain":["adjacent","tumor"],"range":[582,724]},"axis":{"orient":"bottom","offset":-871,"title":null,"labels":false}},"y":{"field":"v","type":"quantitative","scale":{"domain":[9,15],"range":[490,276.7]},"axis":{"orient":"left","offset":-582,"title":"ROMO1","style":"bxa","values":[9,10,11,12,13,14,15]}}},"layer":[{"mark":"boxplot","encoding":{"color":{"field":"g","type":"nominal","scale":{"range":["#FF8000","#00BF00"]},"legend":null}}},{"data":{"values":[{"g":"adjacent","v":14.41,"t":"=0.012"}]},"layer":[{"mark":{"type":"text","style":"pi","dx":3.5},"encoding":{"text":{"value":"P"}}},{"mark":{"type":"text","style":"pv","dx":17.5},"encoding":{"text":{"field":"t"}}}]}]},
{"data":{"values":[{"g":"adjacent","v":6.7},{"g":"adjacent","v":9.6},{"g":"adjacent","v":10.2},{"g":"adjacent","v":10.56},{"g":"adjacent","v":11},{"g":"tumor","v":6.9},{"g":"tumor","v":9.2},{"g":"tumor","v":10.37},{"g":"tumor","v":10.85},{"g":"tumor","v":11.5}]},"encoding":{"x":{"field":"g","type":"nominal","scale":{"type":"band","padding":0,"domain":["adjacent","tumor"],"range":[581,726]},"axis":{"orient":"bottom","offset":-617,"title":null,"labels":false}},"y":{"field":"v","type":"quantitative","scale":{"domain":[6,14],"range":[744,532.3]},"axis":{"orient":"left","offset":-581,"title":"USP34","style":"bxa","values":[6,8,10,12,14]}}},"layer":[{"mark":"boxplot","encoding":{"color":{"field":"g","type":"nominal","scale":{"range":["#FF8000","#00BF00"]},"legend":null}}},{"data":{"values":[{"g":"adjacent","v":12.8,"t":"=0.551"}]},"layer":[{"mark":{"type":"text","style":"pi","dx":8.5},"encoding":{"text":{"value":"P"}}},{"mark":{"type":"text","style":"pv","dx":22.5},"encoding":{"text":{"field":"t"}}}]}]},
{"data":{"values":[{"g":"adjacent","v":12.08},{"g":"adjacent","v":12.65},{"g":"adjacent","v":12.95},{"g":"adjacent","v":13.23},{"g":"adjacent","v":14.72},{"g":"tumor","v":10.98},{"g":"tumor","v":12.15},{"g":"tumor","v":12.5},{"g":"tumor","v":13.43},{"g":"tumor","v":14.28}]},"encoding":{"x":{"field":"g","type":"nominal","scale":{"type":"band","padding":0,"domain":["adjacent","tumor"],"range":[581.7,720]},"axis":{"orient":"bottom","offset":-352.7,"title":null,"labels":false}},"y":{"field":"v","type":"quantitative","scale":{"domain":[10,16],"range":[1008.3,794.7]},"axis":{"orient":"left","offset":-581.7,"title":"ZNHIT1","style":"bxa","values":[10,12,14,16]}}},"layer":[{"mark":"boxplot","encoding":{"color":{"field":"g","type":"nominal","scale":{"range":["#FF8000","#00BF00"]},"legend":null}}},{"data":{"values":[{"g":"adjacent","v":15.38,"t":"=0.053"}]},"layer":[{"mark":{"type":"text","style":"pi","dx":9.4},"encoding":{"text":{"value":"P"}}},{"mark":{"type":"text","style":"pv","dx":23.4},"encoding":{"text":{"field":"t"}}}]}]},
{"data":{"values":[{"g":"adjacent","v":5.72},{"g":"adjacent","v":7.99},{"g":"adjacent","v":8.46},{"g":"adjacent","v":8.62},{"g":"adjacent","v":9.13},{"g":"tumor","v":6.08},{"g":"tumor","v":7.88},{"g":"tumor","v":8.56},{"g":"tumor","v":9},{"g":"tumor","v":9.9}]},"encoding":{"x":{"field":"g","type":"nominal","scale":{"type":"band","padding":0,"domain":["adjacent","tumor"],"range":[581,726.6]},"axis":{"orient":"bottom","offset":-84.3,"title":null,"labelAngle":-33,"labelAlign":"center","labelBaseline":"middle","labelFontSize":20,"labelOffset":-10,"labelPadding":27,"labelExpr":"datum.label=='tumor'?'tumor':['adjacent','non-tumor']"}},"y":{"field":"v","type":"quantitative","scale":{"domain":[4,12],"range":[1276.7,1067.3]},"axis":{"orient":"left","offset":-581,"title":"ADAM17","style":"bxa","values":[4,6,8,10,12]}}},"layer":[{"mark":"boxplot","encoding":{"color":{"field":"g","type":"nominal","scale":{"range":["#FF8000","#00BF00"]},"legend":null}}},{"data":{"values":[{"g":"adjacent","v":11.18,"t":"=0.617"}]},"layer":[{"mark":{"type":"text","style":"pi","dx":7.4},"encoding":{"text":{"value":"P"}}},{"mark":{"type":"text","style":"pv","dx":21.4},"encoding":{"text":{"field":"t"}}}]}]},
{"data":{"values":[{"g":"adjacent","v":10.23},{"g":"adjacent","v":10.51},{"g":"adjacent","v":10.77},{"g":"adjacent","v":11.23},{"g":"adjacent","v":12.96},{"g":"tumor","v":9.92},{"g":"tumor","v":10.71},{"g":"tumor","v":11.2},{"g":"tumor","v":11.65},{"g":"tumor","v":13.66}]},"encoding":{"x":{"field":"g","type":"nominal","scale":{"type":"band","padding":0,"domain":["adjacent","tumor"],"range":[1336,1473]},"axis":{"orient":"bottom","offset":-1123.7,"title":null,"labels":false}},"y":{"field":"v","type":"quantitative","scale":{"domain":[9,15],"range":[237.3,22.7]},"axis":{"orient":"left","offset":-1336,"title":"LAMTOR4","style":"bxa","values":[9,10,11,12,13,14,15]}}},"layer":[{"mark":"boxplot","encoding":{"color":{"field":"g","type":"nominal","scale":{"range":["#FF8000","#00BF00"]},"legend":null}}},{"data":{"values":[{"g":"adjacent","v":14.5,"t":"=0.003"}]},"layer":[{"mark":{"type":"text","style":"pi","dx":0},"encoding":{"text":{"value":"P"}}},{"mark":{"type":"text","style":"pv","dx":14},"encoding":{"text":{"field":"t"}}}]}]},
{"data":{"values":[{"g":"adjacent","v":9.47},{"g":"adjacent","v":9.9},{"g":"adjacent","v":10.1},{"g":"adjacent","v":10.48},{"g":"adjacent","v":11.52},{"g":"tumor","v":9.7},{"g":"tumor","v":10.37},{"g":"tumor","v":10.74},{"g":"tumor","v":11.2},{"g":"tumor","v":12.08}]},"encoding":{"x":{"field":"g","type":"nominal","scale":{"type":"band","padding":0,"domain":["adjacent","tumor"],"range":[1336,1473]},"axis":{"orient":"bottom","offset":-866,"title":null,"labels":false}},"y":{"field":"v","type":"quantitative","scale":{"domain":[8,13],"range":[495,282]},"axis":{"orient":"left","offset":-1336,"title":"SNRPA","style":"bxa","values":[8,9,10,11,12,13]}}},"layer":[{"mark":"boxplot","encoding":{"color":{"field":"g","type":"nominal","scale":{"range":["#FF8000","#00BF00"]},"legend":null}}},{"data":{"values":[{"g":"adjacent","v":12.63,"t":"<0.0001"}]},"layer":[{"mark":{"type":"text","style":"pi","dx":-4.6},"encoding":{"text":{"value":"P"}}},{"mark":{"type":"text","style":"pv","dx":9.4},"encoding":{"text":{"field":"t"}}}]}]},
{"data":{"values":[{"g":"adjacent","v":10.84},{"g":"adjacent","v":11.12},{"g":"adjacent","v":11.4},{"g":"adjacent","v":11.61},{"g":"adjacent","v":12.62},{"g":"tumor","v":10.74},{"g":"tumor","v":11.48},{"g":"tumor","v":11.8},{"g":"tumor","v":12.56},{"g":"tumor","v":14.26}]},"encoding":{"x":{"field":"g","type":"nominal","scale":{"type":"band","padding":0,"domain":["adjacent","tumor"],"range":[1335.7,1473]},"axis":{"orient":"bottom","offset":-620,"title":null,"labels":false}},"y":{"field":"v","type":"quantitative","scale":{"domain":[10,15],"range":[741,532.3]},"axis":{"orient":"left","offset":-1335.7,"title":"SNRPD2","style":"bxa","values":[10,11,12,13,14,15]}}},"layer":[{"mark":"boxplot","encoding":{"color":{"field":"g","type":"nominal","scale":{"range":["#FF8000","#00BF00"]},"legend":null}}},{"data":{"values":[{"g":"adjacent","v":14.71,"t":"<0.0001"}]},"layer":[{"mark":{"type":"text","style":"pi","dx":-6.7},"encoding":{"text":{"value":"P"}}},{"mark":{"type":"text","style":"pv","dx":7.3},"encoding":{"text":{"field":"t"}}}]}]},
{"data":{"values":[{"g":"adjacent","v":15.63},{"g":"adjacent","v":16.25},{"g":"adjacent","v":16.76},{"g":"adjacent","v":17},{"g":"adjacent","v":17.47},{"g":"tumor","v":12.09},{"g":"tumor","v":14.25},{"g":"tumor","v":15.15},{"g":"tumor","v":15.85},{"g":"tumor","v":16.73}]},"encoding":{"x":{"field":"g","type":"nominal","scale":{"type":"band","padding":0,"domain":["adjacent","tumor"],"range":[1332.7,1472.7]},"axis":{"orient":"bottom","offset":-357.7,"title":null,"labels":false}},"y":{"field":"v","type":"quantitative","scale":{"domain":[10,20],"range":[1003.3,792.7]},"axis":{"orient":"left","offset":-1332.7,"title":"ALDH2","style":"bxa","values":[10,12,14,16,18,20]}}},"layer":[{"mark":"boxplot","encoding":{"color":{"field":"g","type":"nominal","scale":{"range":["#FF8000","#00BF00"]},"legend":null}}},{"data":{"values":[{"g":"adjacent","v":19.13,"t":"<0.0001"}]},"layer":[{"mark":{"type":"text","style":"pi","dx":-5.4},"encoding":{"text":{"value":"P"}}},{"mark":{"type":"text","style":"pv","dx":8.6},"encoding":{"text":{"field":"t"}}}]}]},
{"data":{"values":[{"g":"adjacent","v":14.08},{"g":"adjacent","v":15.35},{"g":"adjacent","v":15.73},{"g":"adjacent","v":16.26},{"g":"adjacent","v":17.54},{"g":"tumor","v":10.3},{"g":"tumor","v":13.09},{"g":"tumor","v":14.7},{"g":"tumor","v":15.52},{"g":"tumor","v":18.13}]},"encoding":{"x":{"field":"g","type":"nominal","scale":{"type":"band","padding":0,"domain":["adjacent","tumor"],"range":[1333.7,1474]},"axis":{"orient":"bottom","offset":-87.7,"title":null,"labelAngle":-33,"labelAlign":"center","labelBaseline":"middle","labelFontSize":20,"labelOffset":-10,"labelPadding":27,"labelExpr":"datum.label=='tumor'?'tumor':['adjacent','non-tumor']"}},"y":{"field":"v","type":"quantitative","scale":{"domain":[8,20],"range":[1273.3,1061.7]},"axis":{"orient":"left","offset":-1333.7,"title":"DCXR","style":"bxa","values":[8,10,12,14,16,18,20]}}},"layer":[{"mark":"boxplot","encoding":{"color":{"field":"g","type":"nominal","scale":{"range":["#FF8000","#00BF00"]},"legend":null}}},{"data":{"values":[{"g":"adjacent","v":19.47,"t":"<0.0001"}]},"layer":[{"mark":{"type":"text","style":"pi","dx":-5.5},"encoding":{"text":{"value":"P"}}},{"mark":{"type":"text","style":"pv","dx":8.5},"encoding":{"text":{"field":"t"}}}]}]},
{"encoding":{"x":{"field":"a","type":"quantitative","scale":{"domain":[0.343,4.657],"range":[847.8,1188.6]},"axis":{"orient":"bottom","offset":-1125.3,"title":null,"values":[1,2,3,4],"labels":false,"style":"va"}},"y":{"field":"y","type":"quantitative","scale":{"domain":[1.74,13.28],"range":[235.7,25]},"axis":{"orient":"left","offset":-847.8,"title":null,"values":[2,4,6,8,10,12],"style":"va"}}},"layer":[
{"data":{"values":[{"a":0.343,"b":4.657,"y":1.74,"y2":13.28}]},"mark":{"type":"rect","fill":null,"stroke":"#444","strokeWidth":1.5},"encoding":{"x2":{"field":"b"},"y2":{"field":"y2"}}},
{"data":{"values":[{"s":1,"y":11.69,"a":0.99,"b":1.01},{"s":1,"y":10.5,"a":0.87,"b":1.13},{"s":1,"y":9.5,"a":0.69,"b":1.31},{"s":1,"y":8.5,"a":0.6,"b":1.4},{"s":1,"y":8,"a":0.62,"b":1.38},{"s":1,"y":7,"a":0.77,"b":1.23},{"s":1,"y":6,"a":0.85,"b":1.15},{"s":1,"y":5,"a":0.91,"b":1.09},{"s":1,"y":4,"a":0.97,"b":1.03},{"s":1,"y":3.55,"a":0.99,"b":1.01},
{"s":2,"y":10.47,"a":1.85,"b":2.15},{"s":2,"y":9.5,"a":1.69,"b":2.31},{"s":2,"y":8.5,"a":1.6,"b":2.4},{"s":2,"y":8,"a":1.62,"b":2.38},{"s":2,"y":7,"a":1.69,"b":2.31},{"s":2,"y":6,"a":1.79,"b":2.21},{"s":2,"y":5,"a":1.8,"b":2.2},{"s":2,"y":4,"a":1.85,"b":2.15},{"s":2,"y":3,"a":1.94,"b":2.06},{"s":2,"y":2.65,"a":1.93,"b":2.07},
{"s":3,"y":11.03,"a":2.91,"b":3.09},{"s":3,"y":10,"a":2.75,"b":3.25},{"s":3,"y":9,"a":2.68,"b":3.32},{"s":3,"y":8,"a":2.64,"b":3.36},{"s":3,"y":7,"a":2.61,"b":3.39},{"s":3,"y":6.3,"a":2.6,"b":3.4},{"s":3,"y":5.5,"a":2.69,"b":3.31},{"s":3,"y":4.5,"a":2.8,"b":3.2},{"s":3,"y":3.5,"a":2.88,"b":3.12},{"s":3,"y":2.6,"a":2.95,"b":3.05},{"s":3,"y":2.15,"a":2.94,"b":3.06},
{"s":4,"y":9.2,"a":3.71,"b":4.29},{"s":4,"y":8,"a":3.63,"b":4.37},{"s":4,"y":7,"a":3.6,"b":4.4},{"s":4,"y":6,"a":3.61,"b":4.39},{"s":4,"y":5,"a":3.68,"b":4.32},{"s":4,"y":4,"a":3.79,"b":4.21},{"s":4,"y":3.65,"a":3.82,"b":4.18}]},"mark":"area","encoding":{"x2":{"field":"b"},"detail":{"field":"s"}}},
{"data":{"values":[{"s":1,"lo":3.55,"q1":7.22,"m":8.26,"q3":9.17,"hi":11.69},{"s":2,"lo":2.65,"q1":5.43,"m":7.66,"q3":8.99,"hi":10.47},{"s":3,"lo":2.15,"q1":5.63,"m":6.85,"q3":8.75,"hi":11.03},{"s":4,"lo":3.65,"q1":5.98,"m":6.47,"q3":8.08,"hi":9.2}]},"encoding":{"x":{"field":"s","type":"quantitative"}},"layer":[{"mark":{"type":"rule","style":"thin"},"encoding":{"y":{"field":"lo","type":"quantitative"},"y2":{"field":"hi"}}},{"mark":{"type":"rule","style":"thick"},"encoding":{"y":{"field":"q1","type":"quantitative"},"y2":{"field":"q3"}}},{"mark":{"type":"circle","style":"med"},"encoding":{"y":{"field":"m","type":"quantitative"}}}]},
{"data":{"values":[{"a":0.416,"y":12.46,"t":"SLC27A5"}]},"mark":{"type":"text","style":"gn"},"encoding":{"text":{"field":"t"}}},
{"data":{"values":[{"a":3.27,"y":12.22,"t":"=2.63e-05"}]},"layer":[{"mark":{"type":"text","style":"pi"},"encoding":{"text":{"value":"P"}}},{"mark":{"type":"text","style":"pv"},"encoding":{"text":{"field":"t"}}}]}]},
{"encoding":{"x":{"field":"a","type":"quantitative","scale":{"domain":[0.34,4.664],"range":[849.2,1188.6]},"axis":{"orient":"bottom","offset":-867.7,"title":null,"values":[1,2,3,4],"labels":false,"style":"va"}},"y":{"field":"y","type":"quantitative","scale":{"domain":[6.21,11.82],"range":[493.3,276.7]},"axis":{"orient":"left","offset":-849.2,"title":null,"values":[7,8,9,10,11],"style":"va"}}},"layer":[
{"data":{"values":[{"a":0.34,"b":4.664,"y":6.21,"y2":11.82}]},"mark":{"type":"rect","fill":null,"stroke":"#444","strokeWidth":1.5},"encoding":{"x2":{"field":"b"},"y2":{"field":"y2"}}},
{"data":{"values":[{"s":1,"y":9.46,"a":0.95,"b":1.05},{"s":1,"y":9,"a":0.91,"b":1.09},{"s":1,"y":8.7,"a":0.84,"b":1.16},{"s":1,"y":8.5,"a":0.74,"b":1.26},{"s":1,"y":8,"a":0.6,"b":1.4},{"s":1,"y":7.5,"a":0.72,"b":1.28},{"s":1,"y":7,"a":0.89,"b":1.11},{"s":1,"y":6.6,"a":0.93,"b":1.07},{"s":1,"y":6.45,"a":0.95,"b":1.05},
{"s":2,"y":9.65,"a":1.97,"b":2.03},{"s":2,"y":9,"a":1.83,"b":2.17},{"s":2,"y":8.5,"a":1.7,"b":2.3},{"s":2,"y":8,"a":1.6,"b":2.4},{"s":2,"y":7.5,"a":1.65,"b":2.35},{"s":2,"y":7.1,"a":1.82,"b":2.18},{"s":2,"y":6.8,"a":1.93,"b":2.07},
{"s":3,"y":10.55,"a":2.99,"b":3.01},{"s":3,"y":10,"a":2.97,"b":3.03},{"s":3,"y":9.5,"a":2.93,"b":3.07},{"s":3,"y":9,"a":2.84,"b":3.16},{"s":3,"y":8.5,"a":2.7,"b":3.3},{"s":3,"y":8,"a":2.6,"b":3.4},{"s":3,"y":7.5,"a":2.73,"b":3.27},{"s":3,"y":7,"a":2.87,"b":3.13},{"s":3,"y":6.7,"a":2.95,"b":3.05},{"s":3,"y":6.4,"a":2.96,"b":3.04},
{"s":4,"y":9.02,"a":3.72,"b":4.28},{"s":4,"y":8.5,"a":3.62,"b":4.38},{"s":4,"y":8,"a":3.6,"b":4.4},{"s":4,"y":7.5,"a":3.64,"b":4.36},{"s":4,"y":7,"a":3.77,"b":4.23},{"s":4,"y":6.9,"a":3.8,"b":4.2}]},"mark":"area","encoding":{"x2":{"field":"b"},"detail":{"field":"s"}}},
{"data":{"values":[{"s":1,"lo":6.45,"q1":7.5,"m":7.93,"q3":8.38,"hi":9.46},{"s":2,"lo":6.8,"q1":7.54,"m":8.09,"q3":8.58,"hi":9.65},{"s":3,"lo":6.4,"q1":7.54,"m":7.98,"q3":8.49,"hi":10.55},{"s":4,"lo":6.9,"q1":7.52,"m":8.04,"q3":8.51,"hi":9.02}]},"encoding":{"x":{"field":"s","type":"quantitative"}},"layer":[{"mark":{"type":"rule","style":"thin"},"encoding":{"y":{"field":"lo","type":"quantitative"},"y2":{"field":"hi"}}},{"mark":{"type":"rule","style":"thick"},"encoding":{"y":{"field":"q1","type":"quantitative"},"y2":{"field":"q3"}}},{"mark":{"type":"circle","style":"med"},"encoding":{"y":{"field":"m","type":"quantitative"}}}]},
{"data":{"values":[{"a":0.554,"y":11.26,"t":"ROMO1"}]},"mark":{"type":"text","style":"gn"},"encoding":{"text":{"field":"t"}}},
{"data":{"values":[{"a":3.47,"y":11.22,"t":"=0.139"}]},"layer":[{"mark":{"type":"text","style":"pi"},"encoding":{"text":{"value":"P"}}},{"mark":{"type":"text","style":"pv"},"encoding":{"text":{"field":"t"}}}]}]},
{"encoding":{"x":{"field":"a","type":"quantitative","scale":{"domain":[0.337,4.663],"range":[849.3,1186.7]},"axis":{"orient":"bottom","offset":-619.3,"title":null,"values":[1,2,3,4],"labels":false,"style":"va"}},"y":{"field":"y","type":"quantitative","scale":{"domain":[1.61,6.73],"range":[741.7,531.7]},"axis":{"orient":"left","offset":-849.3,"title":null,"values":[2,3,4,5,6],"labelExpr":"datum.value==2?'':datum.label","style":"va"}}},"layer":[
{"data":{"values":[{"a":0.337,"b":4.663,"y":1.61,"y2":6.73}]},"mark":{"type":"rect","fill":null,"stroke":"#444","strokeWidth":1.5},"encoding":{"x2":{"field":"b"},"y2":{"field":"y2"}}},
{"data":{"values":[{"s":1,"y":5.96,"a":0.99,"b":1.01},{"s":1,"y":5.5,"a":0.98,"b":1.02},{"s":1,"y":5,"a":0.87,"b":1.13},{"s":1,"y":4.5,"a":0.68,"b":1.32},{"s":1,"y":4.1,"a":0.6,"b":1.4},{"s":1,"y":3.6,"a":0.72,"b":1.28},{"s":1,"y":3.2,"a":0.88,"b":1.12},{"s":1,"y":2.7,"a":0.97,"b":1.03},{"s":1,"y":2.25,"a":0.98,"b":1.02},
{"s":2,"y":5.8,"a":1.97,"b":2.03},{"s":2,"y":5.4,"a":1.93,"b":2.07},{"s":2,"y":5,"a":1.84,"b":2.16},{"s":2,"y":4.5,"a":1.69,"b":2.31},{"s":2,"y":4,"a":1.6,"b":2.4},{"s":2,"y":3.5,"a":1.75,"b":2.25},{"s":2,"y":3,"a":1.9,"b":2.1},{"s":2,"y":2.87,"a":1.92,"b":2.08},
{"s":3,"y":5.8,"a":2.96,"b":3.04},{"s":3,"y":5.4,"a":2.88,"b":3.12},{"s":3,"y":5,"a":2.8,"b":3.2},{"s":3,"y":4.5,"a":2.67,"b":3.33},{"s":3,"y":4.1,"a":2.6,"b":3.4},{"s":3,"y":3.5,"a":2.74,"b":3.26},{"s":3,"y":3,"a":2.92,"b":3.08},{"s":3,"y":2.5,"a":2.98,"b":3.02},{"s":3,"y":1.8,"a":2.99,"b":3.01},
{"s":4,"y":4.97,"a":3.86,"b":4.14},{"s":4,"y":4.7,"a":3.83,"b":4.17},{"s":4,"y":4.3,"a":3.72,"b":4.28},{"s":4,"y":3.9,"a":3.61,"b":4.39},{"s":4,"y":3.7,"a":3.6,"b":4.4},{"s":4,"y":3.36,"a":3.67,"b":4.33}]},"mark":"area","encoding":{"x2":{"field":"b"},"detail":{"field":"s"}}},
{"data":{"values":[{"s":1,"lo":2.25,"q1":3.72,"m":4.07,"q3":4.46,"hi":5.96},{"s":2,"lo":2.87,"q1":3.7,"m":4.02,"q3":4.5,"hi":5.8},{"s":3,"lo":1.8,"q1":3.8,"m":4.22,"q3":4.64,"hi":5.8},{"s":4,"lo":3.36,"q1":3.63,"m":3.89,"q3":3.98,"hi":4.5}]},"encoding":{"x":{"field":"s","type":"quantitative"}},"layer":[{"mark":{"type":"rule","style":"thin"},"encoding":{"y":{"field":"lo","type":"quantitative"},"y2":{"field":"hi"}}},{"mark":{"type":"rule","style":"thick"},"encoding":{"y":{"field":"q1","type":"quantitative"},"y2":{"field":"q3"}}},{"mark":{"type":"circle","style":"med"},"encoding":{"y":{"field":"m","type":"quantitative"}}}]},
{"data":{"values":[{"a":0.58,"y":6.27,"t":"USP34"}]},"mark":{"type":"text","style":"gn"},"encoding":{"text":{"field":"t"}}},
{"data":{"values":[{"a":3.51,"y":6.23,"t":"=0.184"}]},"layer":[{"mark":{"type":"text","style":"pi"},"encoding":{"text":{"value":"P"}}},{"mark":{"type":"text","style":"pv"},"encoding":{"text":{"field":"t"}}}]}]},
{"encoding":{"x":{"field":"a","type":"quantitative","scale":{"domain":[0.338,4.66],"range":[847.3,1182.7]},"axis":{"orient":"bottom","offset":-355,"title":null,"values":[1,2,3,4],"labels":false,"style":"va"}},"y":{"field":"y","type":"quantitative","scale":{"domain":[4.85,10.94],"range":[1006,791.7]},"axis":{"orient":"left","offset":-847.3,"title":null,"values":[5,6,7,8,9,10],"style":"va"}}},"layer":[
{"data":{"values":[{"a":0.338,"b":4.66,"y":4.85,"y2":10.94}]},"mark":{"type":"rect","fill":null,"stroke":"#444","strokeWidth":1.5},"encoding":{"x2":{"field":"b"},"y2":{"field":"y2"}}},
{"data":{"values":[{"s":1,"y":9.04,"a":0.99,"b":1.01},{"s":1,"y":8.5,"a":0.98,"b":1.02},{"s":1,"y":8,"a":0.9,"b":1.1},{"s":1,"y":7.5,"a":0.7,"b":1.3},{"s":1,"y":7,"a":0.6,"b":1.4},{"s":1,"y":6.8,"a":0.62,"b":1.38},{"s":1,"y":6.5,"a":0.8,"b":1.2},{"s":1,"y":6.2,"a":0.92,"b":1.08},{"s":1,"y":5.85,"a":0.98,"b":1.02},
{"s":2,"y":8.3,"a":1.93,"b":2.07},{"s":2,"y":8,"a":1.8,"b":2.2},{"s":2,"y":7.5,"a":1.63,"b":2.37},{"s":2,"y":7,"a":1.6,"b":2.4},{"s":2,"y":6.7,"a":1.64,"b":2.36},{"s":2,"y":6.2,"a":1.8,"b":2.2},{"s":2,"y":5.6,"a":1.94,"b":2.06},{"s":2,"y":5.2,"a":1.96,"b":2.04},
{"s":3,"y":9.75,"a":2.99,"b":3.01},{"s":3,"y":8.5,"a":2.98,"b":3.02},{"s":3,"y":8,"a":2.9,"b":3.1},{"s":3,"y":7.5,"a":2.75,"b":3.25},{"s":3,"y":7,"a":2.64,"b":3.36},{"s":3,"y":6.7,"a":2.6,"b":3.4},{"s":3,"y":6.2,"a":2.76,"b":3.24},{"s":3,"y":5.6,"a":2.9,"b":3.1},{"s":3,"y":5.3,"a":2.98,"b":3.02},{"s":3,"y":5.05,"a":2.99,"b":3.01},
{"s":4,"y":7.45,"a":3.86,"b":4.14},{"s":4,"y":7,"a":3.68,"b":4.32},{"s":4,"y":6.7,"a":3.6,"b":4.4},{"s":4,"y":6.3,"a":3.67,"b":4.33},{"s":4,"y":6,"a":3.8,"b":4.2},{"s":4,"y":5.9,"a":3.8,"b":4.2}]},"mark":"area","encoding":{"x2":{"field":"b"},"detail":{"field":"s"}}},
{"data":{"values":[{"s":1,"lo":5.85,"q1":6.7,"m":7.03,"q3":7.34,"hi":9.04},{"s":2,"lo":5.2,"q1":6.68,"m":7.04,"q3":7.51,"hi":8.3},{"s":3,"lo":5.05,"q1":6.58,"m":6.92,"q3":7.36,"hi":9.75},{"s":4,"lo":5.98,"q1":6.53,"m":6.82,"q3":6.72,"hi":7.45}]},"encoding":{"x":{"field":"s","type":"quantitative"}},"layer":[{"mark":{"type":"rule","style":"thin"},"encoding":{"y":{"field":"lo","type":"quantitative"},"y2":{"field":"hi"}}},{"mark":{"type":"rule","style":"thick"},"encoding":{"y":{"field":"q1","type":"quantitative"},"y2":{"field":"q3"}}},{"mark":{"type":"circle","style":"med"},"encoding":{"y":{"field":"m","type":"quantitative"}}}]},
{"data":{"values":[{"a":0.63,"y":10.25,"t":"ZNHIT1"}]},"mark":{"type":"text","style":"gn"},"encoding":{"text":{"field":"t"}}},
{"data":{"values":[{"a":3.53,"y":10.32,"t":"=0.414"}]},"layer":[{"mark":{"type":"text","style":"pi"},"encoding":{"text":{"value":"P"}}},{"mark":{"type":"text","style":"pv"},"encoding":{"text":{"field":"t"}}}]}]},
{"encoding":{"x":{"field":"a","type":"quantitative","scale":{"domain":[0.336,4.66],"range":[848.8,1183]},"axis":{"orient":"bottom","offset":-84.3,"title":null,"values":[1,2,3,4],"labelExpr":"['','stage I','stage II','stage III','stage IV'][datum.value]","labelAngle":-35,"labelAlign":"center","labelBaseline":"middle","labelFontSize":21,"labelOffset":-13,"labelPadding":30,"style":"va"}},"y":{"field":"y","type":"quantitative","scale":{"domain":[-0.13,5.36],"range":[1276.7,1064.3]},"axis":{"orient":"left","offset":-848.8,"title":null,"values":[0,1,2,3,4,5],"style":"va"}}},"layer":[
{"data":{"values":[{"a":0.336,"b":4.66,"y":-0.13,"y2":5.36}]},"mark":{"type":"rect","fill":null,"stroke":"#444","strokeWidth":1.5},"encoding":{"x2":{"field":"b"},"y2":{"field":"y2"}}},
{"data":{"values":[{"a":0.6,"b":1.4,"y":0.02},{"a":1.6,"b":2.4,"y":0.02}]},"mark":{"type":"rule","stroke":"#000","strokeWidth":2},"encoding":{"x2":{"field":"b"}}},
{"data":{"values":[{"s":1,"y":3.37,"a":0.97,"b":1.03},{"s":1,"y":3,"a":0.9,"b":1.1},{"s":1,"y":2.5,"a":0.75,"b":1.25},{"s":1,"y":2,"a":0.65,"b":1.35},{"s":1,"y":1.6,"a":0.6,"b":1.4},{"s":1,"y":1.2,"a":0.7,"b":1.3},{"s":1,"y":0.8,"a":0.88,"b":1.12},{"s":1,"y":0.5,"a":0.9,"b":1.1},{"s":1,"y":0.13,"a":0.85,"b":1.15},
{"s":2,"y":4.42,"a":1.98,"b":2.02},{"s":2,"y":4,"a":1.95,"b":2.05},{"s":2,"y":3.5,"a":1.9,"b":2.1},{"s":2,"y":3,"a":1.82,"b":2.18},{"s":2,"y":2.5,"a":1.71,"b":2.29},{"s":2,"y":2,"a":1.61,"b":2.39},{"s":2,"y":1.6,"a":1.6,"b":2.4},{"s":2,"y":1,"a":1.64,"b":2.36},{"s":2,"y":0.5,"a":1.75,"b":2.25},{"s":2,"y":0.1,"a":1.82,"b":2.18},
{"s":3,"y":4.7,"a":2.96,"b":3.04},{"s":3,"y":4,"a":2.95,"b":3.05},{"s":3,"y":3.5,"a":2.9,"b":3.1},{"s":3,"y":3,"a":2.83,"b":3.17},{"s":3,"y":2.5,"a":2.73,"b":3.27},{"s":3,"y":2,"a":2.63,"b":3.37},{"s":3,"y":1.7,"a":2.6,"b":3.4},{"s":3,"y":1.2,"a":2.67,"b":3.33},{"s":3,"y":0.7,"a":2.84,"b":3.16},{"s":3,"y":0.3,"a":2.92,"b":3.08},{"s":3,"y":0.08,"a":2.92,"b":3.08},
{"s":4,"y":1.88,"a":3.61,"b":4.39},{"s":4,"y":1.6,"a":3.6,"b":4.4},{"s":4,"y":1.2,"a":3.64,"b":4.36},{"s":4,"y":1,"a":3.7,"b":4.3},{"s":4,"y":0.6,"a":3.78,"b":4.22},{"s":4,"y":0.3,"a":3.8,"b":4.2}]},"mark":"area","encoding":{"x2":{"field":"b"},"detail":{"field":"s"}}},
{"data":{"values":[{"s":1,"lo":0.13,"q1":1.08,"m":1.58,"q3":2.09,"hi":3.37},{"s":2,"lo":0.1,"q1":0.88,"m":1.71,"q3":2.23,"hi":4.42},{"s":3,"lo":0.08,"q1":1.28,"m":1.74,"q3":2.46,"hi":4.2},{"s":4,"lo":0.3,"q1":0.78,"m":1.62,"q3":1.87,"hi":1.88}]},"encoding":{"x":{"field":"s","type":"quantitative"}},"layer":[{"mark":{"type":"rule","style":"thin"},"encoding":{"y":{"field":"lo","type":"quantitative"},"y2":{"field":"hi"}}},{"mark":{"type":"rule","style":"thick"},"encoding":{"y":{"field":"q1","type":"quantitative"},"y2":{"field":"q3"}}},{"mark":{"type":"circle","style":"med"},"encoding":{"y":{"field":"m","type":"quantitative"}}}]},
{"data":{"values":[{"a":0.636,"y":4.87,"t":"ADAM17"}]},"mark":{"type":"text","style":"gn"},"encoding":{"text":{"field":"t"}}},
{"data":{"values":[{"a":3.55,"y":4.96,"t":"=0.011"}]},"layer":[{"mark":{"type":"text","style":"pi"},"encoding":{"text":{"value":"P"}}},{"mark":{"type":"text","style":"pv"},"encoding":{"text":{"field":"t"}}}]}]},
{"encoding":{"x":{"field":"a","type":"quantitative","scale":{"domain":[0.338,4.67],"range":[1601,1943.3]},"axis":{"orient":"bottom","offset":-1125.3,"title":null,"values":[1,2,3,4],"labels":false,"style":"va"}},"y":{"field":"y","type":"quantitative","scale":{"domain":[5.02,12.78],"range":[235.7,27.3]},"axis":{"orient":"left","offset":-1601,"title":null,"values":[6,7,8,9,10,11,12],"style":"va"}}},"layer":[
{"data":{"values":[{"a":0.338,"b":4.67,"y":5.02,"y2":12.78}]},"mark":{"type":"rect","fill":null,"stroke":"#444","strokeWidth":1.5},"encoding":{"x2":{"field":"b"},"y2":{"field":"y2"}}},
{"data":{"values":[{"s":1,"y":8.5,"a":0.97,"b":1.03},{"s":1,"y":8,"a":0.93,"b":1.07},{"s":1,"y":7.6,"a":0.85,"b":1.15},{"s":1,"y":7.3,"a":0.7,"b":1.3},{"s":1,"y":7,"a":0.6,"b":1.4},{"s":1,"y":6.7,"a":0.68,"b":1.32},{"s":1,"y":6.3,"a":0.83,"b":1.17},{"s":1,"y":6,"a":0.93,"b":1.07},{"s":1,"y":5.6,"a":0.99,"b":1.01},
{"s":2,"y":9.2,"a":1.99,"b":2.01},{"s":2,"y":8.5,"a":1.94,"b":2.06},{"s":2,"y":8,"a":1.87,"b":2.13},{"s":2,"y":7.5,"a":1.78,"b":2.22},{"s":2,"y":7.2,"a":1.7,"b":2.3},{"s":2,"y":6.85,"a":1.6,"b":2.4},{"s":2,"y":6.5,"a":1.7,"b":2.3},{"s":2,"y":6,"a":1.88,"b":2.12},{"s":2,"y":5.6,"a":1.97,"b":2.03},{"s":2,"y":5.3,"a":1.98,"b":2.02},
{"s":3,"y":11.35,"a":2.99,"b":3.01},{"s":3,"y":9,"a":2.99,"b":3.01},{"s":3,"y":8.7,"a":2.98,"b":3.02},{"s":3,"y":8.3,"a":2.92,"b":3.08},{"s":3,"y":7.8,"a":2.84,"b":3.16},{"s":3,"y":7.3,"a":2.7,"b":3.3},{"s":3,"y":6.9,"a":2.6,"b":3.4},{"s":3,"y":6.5,"a":2.7,"b":3.3},{"s":3,"y":6,"a":2.88,"b":3.12},{"s":3,"y":5.7,"a":2.94,"b":3.06},
{"s":4,"y":8.1,"a":3.85,"b":4.15},{"s":4,"y":7.7,"a":3.8,"b":4.2},{"s":4,"y":7.3,"a":3.67,"b":4.33},{"s":4,"y":6.9,"a":3.6,"b":4.4},{"s":4,"y":6.7,"a":3.62,"b":4.38},{"s":4,"y":6.5,"a":3.67,"b":4.33}]},"mark":"area","encoding":{"x2":{"field":"b"},"detail":{"field":"s"}}},
{"data":{"values":[{"s":1,"lo":5.6,"q1":6.57,"m":6.99,"q3":7.3,"hi":8.35},{"s":2,"lo":5.3,"q1":6.72,"m":7.06,"q3":7.71,"hi":9.2},{"s":3,"lo":5.7,"q1":6.6,"m":7.06,"q3":7.5,"hi":11.35},{"s":4,"lo":6.5,"q1":6.62,"m":7.13,"q3":7.1,"hi":7.9}]},"encoding":{"x":{"field":"s","type":"quantitative"}},"layer":[{"mark":{"type":"rule","style":"thin"},"encoding":{"y":{"field":"lo","type":"quantitative"},"y2":{"field":"hi"}}},{"mark":{"type":"rule","style":"thick"},"encoding":{"y":{"field":"q1","type":"quantitative"},"y2":{"field":"q3"}}},{"mark":{"type":"circle","style":"med"},"encoding":{"y":{"field":"m","type":"quantitative"}}}]},
{"data":{"values":[{"a":0.544,"y":12.02,"t":"LAMTOR4"}]},"mark":{"type":"text","style":"gn"},"encoding":{"text":{"field":"t"}}},
{"data":{"values":[{"a":3.55,"y":12.06,"t":"=0.145"}]},"layer":[{"mark":{"type":"text","style":"pi"},"encoding":{"text":{"value":"P"}}},{"mark":{"type":"text","style":"pv"},"encoding":{"text":{"field":"t"}}}]}]},
{"encoding":{"x":{"field":"a","type":"quantitative","scale":{"domain":[0.345,4.66],"range":[1601,1939]},"axis":{"orient":"bottom","offset":-871.7,"title":null,"values":[1,2,3,4],"labels":false,"style":"va"}},"y":{"field":"y","type":"quantitative","scale":{"domain":[2.61,8.62],"range":[489.3,275.7]},"axis":{"orient":"left","offset":-1601,"title":null,"values":[3,4,5,6,7,8],"style":"va"}}},"layer":[
{"data":{"values":[{"a":0.345,"b":4.66,"y":2.61,"y2":8.62}]},"mark":{"type":"rect","fill":null,"stroke":"#444","strokeWidth":1.5},"encoding":{"x2":{"field":"b"},"y2":{"field":"y2"}}},
{"data":{"values":[{"s":1,"y":6.57,"a":0.94,"b":1.06},{"s":1,"y":6.2,"a":0.91,"b":1.09},{"s":1,"y":5.8,"a":0.8,"b":1.2},{"s":1,"y":5.4,"a":0.68,"b":1.32},{"s":1,"y":5,"a":0.6,"b":1.4},{"s":1,"y":4.6,"a":0.7,"b":1.3},{"s":1,"y":4.2,"a":0.85,"b":1.15},{"s":1,"y":3.8,"a":0.95,"b":1.05},{"s":1,"y":3.4,"a":0.99,"b":1.01},{"s":1,"y":2.85,"a":0.995,"b":1.005},
{"s":2,"y":6.73,"a":1.94,"b":2.06},{"s":2,"y":6.3,"a":1.8,"b":2.2},{"s":2,"y":5.9,"a":1.68,"b":2.32},{"s":2,"y":5.4,"a":1.63,"b":2.37},{"s":2,"y":5,"a":1.6,"b":2.4},{"s":2,"y":4.7,"a":1.65,"b":2.35},{"s":2,"y":4.3,"a":1.82,"b":2.18},{"s":2,"y":3.95,"a":1.92,"b":2.08},
{"s":3,"y":7.63,"a":2.99,"b":3.01},{"s":3,"y":7,"a":2.96,"b":3.04},{"s":3,"y":6.5,"a":2.91,"b":3.09},{"s":3,"y":6,"a":2.82,"b":3.18},{"s":3,"y":5.5,"a":2.68,"b":3.32},{"s":3,"y":5.2,"a":2.6,"b":3.4},{"s":3,"y":4.8,"a":2.7,"b":3.3},{"s":3,"y":4.4,"a":2.85,"b":3.15},{"s":3,"y":4,"a":2.95,"b":3.05},{"s":3,"y":3.67,"a":2.96,"b":3.04},
{"s":4,"y":5.3,"a":3.66,"b":4.34},{"s":4,"y":5,"a":3.6,"b":4.4},{"s":4,"y":4.6,"a":3.61,"b":4.39},{"s":4,"y":4.3,"a":3.72,"b":4.28},{"s":4,"y":4.13,"a":3.8,"b":4.2}]},"mark":"area","encoding":{"x2":{"field":"b"},"detail":{"field":"s"}}},
{"data":{"values":[{"s":1,"lo":2.85,"q1":4.6,"m":4.97,"q3":5.31,"hi":6.4},{"s":2,"lo":3.95,"q1":4.76,"m":5.28,"q3":5.85,"hi":6.73},{"s":3,"lo":3.67,"q1":4.88,"m":5.27,"q3":5.78,"hi":7.63},{"s":4,"lo":4.13,"q1":4.49,"m":4.74,"q3":5.2,"hi":5.3}]},"encoding":{"x":{"field":"s","type":"quantitative"}},"layer":[{"mark":{"type":"rule","style":"thin"},"encoding":{"y":{"field":"lo","type":"quantitative"},"y2":{"field":"hi"}}},{"mark":{"type":"rule","style":"thick"},"encoding":{"y":{"field":"q1","type":"quantitative"},"y2":{"field":"q3"}}},{"mark":{"type":"circle","style":"med"},"encoding":{"y":{"field":"m","type":"quantitative"}}}]},
{"data":{"values":[{"a":0.545,"y":8.12,"t":"SNRPA"}]},"mark":{"type":"text","style":"gn"},"encoding":{"text":{"field":"t"}}},
{"data":{"values":[{"a":3.21,"y":8.1,"t":"=5.28e-05"}]},"layer":[{"mark":{"type":"text","style":"pi"},"encoding":{"text":{"value":"P"}}},{"mark":{"type":"text","style":"pv"},"encoding":{"text":{"field":"t"}}}]}]},
{"encoding":{"x":{"field":"a","type":"quantitative","scale":{"domain":[0.338,4.66],"range":[1603.3,1943.3]},"axis":{"orient":"bottom","offset":-622,"title":null,"values":[1,2,3,4],"labels":false,"style":"va"}},"y":{"field":"y","type":"quantitative","scale":{"domain":[5.67,14.44],"range":[739,527.7]},"axis":{"orient":"left","offset":-1603.3,"title":null,"values":[6,8,10,12,14],"style":"va"}}},"layer":[
{"data":{"values":[{"a":0.338,"b":4.66,"y":5.67,"y2":14.44}]},"mark":{"type":"rect","fill":null,"stroke":"#444","strokeWidth":1.5},"encoding":{"x2":{"field":"b"},"y2":{"field":"y2"}}},
{"data":{"values":[{"s":1,"y":9.5,"a":0.97,"b":1.03},{"s":1,"y":9,"a":0.95,"b":1.05},{"s":1,"y":8.6,"a":0.9,"b":1.1},{"s":1,"y":8,"a":0.75,"b":1.25},{"s":1,"y":7.5,"a":0.63,"b":1.37},{"s":1,"y":7.3,"a":0.6,"b":1.4},{"s":1,"y":7,"a":0.7,"b":1.3},{"s":1,"y":6.6,"a":0.86,"b":1.14},{"s":1,"y":6.3,"a":0.95,"b":1.05},{"s":1,"y":6,"a":0.99,"b":1.01},
{"s":2,"y":10.63,"a":1.97,"b":2.03},{"s":2,"y":10,"a":1.97,"b":2.03},{"s":2,"y":9.5,"a":1.92,"b":2.08},{"s":2,"y":9,"a":1.84,"b":2.16},{"s":2,"y":8.5,"a":1.72,"b":2.28},{"s":2,"y":8,"a":1.67,"b":2.33},{"s":2,"y":7.5,"a":1.62,"b":2.38},{"s":2,"y":7.3,"a":1.6,"b":2.4},{"s":2,"y":7,"a":1.7,"b":2.3},{"s":2,"y":6.6,"a":1.85,"b":2.15},{"s":2,"y":6.4,"a":1.9,"b":2.1},
{"s":3,"y":12.8,"a":2.99,"b":3.01},{"s":3,"y":11,"a":2.99,"b":3.01},{"s":3,"y":10,"a":2.96,"b":3.04},{"s":3,"y":9.5,"a":2.92,"b":3.08},{"s":3,"y":9,"a":2.84,"b":3.16},{"s":3,"y":8.5,"a":2.73,"b":3.27},{"s":3,"y":8,"a":2.63,"b":3.37},{"s":3,"y":7.6,"a":2.6,"b":3.4},{"s":3,"y":7.2,"a":2.68,"b":3.32},{"s":3,"y":6.7,"a":2.82,"b":3.18},{"s":3,"y":6.3,"a":2.9,"b":3.1},
{"s":4,"y":8.7,"a":3.67,"b":4.33},{"s":4,"y":8.3,"a":3.61,"b":4.39},{"s":4,"y":8,"a":3.6,"b":4.4},{"s":4,"y":7.5,"a":3.68,"b":4.32},{"s":4,"y":7,"a":3.78,"b":4.22},{"s":4,"y":6.55,"a":3.78,"b":4.22}]},"mark":"area","encoding":{"x2":{"field":"b"},"detail":{"field":"s"}}},
{"data":{"values":[{"s":1,"lo":6,"q1":7.09,"m":7.48,"q3":7.98,"hi":9.25},{"s":2,"lo":6.4,"q1":7.27,"m":7.85,"q3":8.53,"hi":10.4},{"s":3,"lo":6.3,"q1":7.29,"m":7.77,"q3":8.44,"hi":10.2},{"s":4,"lo":6.55,"q1":7.23,"m":8.12,"q3":8.37,"hi":8.7}]},"encoding":{"x":{"field":"s","type":"quantitative"}},"layer":[{"mark":{"type":"rule","style":"thin"},"encoding":{"y":{"field":"lo","type":"quantitative"},"y2":{"field":"hi"}}},{"mark":{"type":"rule","style":"thick"},"encoding":{"y":{"field":"q1","type":"quantitative"},"y2":{"field":"q3"}}},{"mark":{"type":"circle","style":"med"},"encoding":{"y":{"field":"m","type":"quantitative"}}}]},
{"data":{"values":[{"a":0.58,"y":13.7,"t":"SNRPD2"}]},"mark":{"type":"text","style":"gn"},"encoding":{"text":{"field":"t"}}},
{"data":{"values":[{"a":3.44,"y":13.7,"t":"=0.0007"}]},"layer":[{"mark":{"type":"text","style":"pi"},"encoding":{"text":{"value":"P"}}},{"mark":{"type":"text","style":"pv"},"encoding":{"text":{"field":"t"}}}]}]},
{"encoding":{"x":{"field":"a","type":"quantitative","scale":{"domain":[0.336,4.668],"range":[1601.7,1938.3]},"axis":{"orient":"bottom","offset":-355.3,"title":null,"values":[1,2,3,4],"labels":false,"style":"va"}},"y":{"field":"y","type":"quantitative","scale":{"domain":[3.86,13],"range":[1005.7,793.7]},"axis":{"orient":"left","offset":-1601.7,"title":null,"values":[4,6,8,10,12],"style":"va"}}},"layer":[
{"data":{"values":[{"a":0.336,"b":4.668,"y":3.86,"y2":13}]},"mark":{"type":"rect","fill":null,"stroke":"#444","strokeWidth":1.5},"encoding":{"x2":{"field":"b"},"y2":{"field":"y2"}}},
{"data":{"values":[{"s":1,"y":11.5,"a":0.99,"b":1.01},{"s":1,"y":11,"a":0.96,"b":1.04},{"s":1,"y":10.5,"a":0.9,"b":1.1},{"s":1,"y":10,"a":0.8,"b":1.2},{"s":1,"y":9.5,"a":0.67,"b":1.33},{"s":1,"y":9,"a":0.61,"b":1.39},{"s":1,"y":8.7,"a":0.6,"b":1.4},{"s":1,"y":8.3,"a":0.7,"b":1.3},{"s":1,"y":7.8,"a":0.83,"b":1.17},{"s":1,"y":7.2,"a":0.93,"b":1.07},{"s":1,"y":6.5,"a":0.98,"b":1.02},{"s":1,"y":4.77,"a":0.995,"b":1.005},
{"s":2,"y":10.37,"a":1.86,"b":2.14},{"s":2,"y":9.5,"a":1.72,"b":2.28},{"s":2,"y":9,"a":1.64,"b":2.36},{"s":2,"y":8.4,"a":1.6,"b":2.4},{"s":2,"y":8,"a":1.62,"b":2.38},{"s":2,"y":7.5,"a":1.73,"b":2.27},{"s":2,"y":7,"a":1.82,"b":2.18},{"s":2,"y":6.5,"a":1.92,"b":2.08},{"s":2,"y":6,"a":1.95,"b":2.05},{"s":2,"y":5.5,"a":1.95,"b":2.05},
{"s":3,"y":10.63,"a":2.89,"b":3.11},{"s":3,"y":10,"a":2.74,"b":3.26},{"s":3,"y":9.5,"a":2.65,"b":3.35},{"s":3,"y":9,"a":2.6,"b":3.4},{"s":3,"y":8.5,"a":2.6,"b":3.4},{"s":3,"y":8,"a":2.62,"b":3.38},{"s":3,"y":7.5,"a":2.73,"b":3.27},{"s":3,"y":7,"a":2.83,"b":3.17},{"s":3,"y":6.5,"a":2.9,"b":3.1},{"s":3,"y":5.5,"a":2.96,"b":3.04},{"s":3,"y":4.2,"a":2.97,"b":3.03},
{"s":4,"y":8.55,"a":3.83,"b":4.17},{"s":4,"y":8.2,"a":3.78,"b":4.22},{"s":4,"y":7.9,"a":3.7,"b":4.3},{"s":4,"y":7.6,"a":3.62,"b":4.38},{"s":4,"y":7.42,"a":3.6,"b":4.4}]},"mark":"area","encoding":{"x2":{"field":"b"},"detail":{"field":"s"}}},
{"data":{"values":[{"s":1,"lo":4.77,"q1":8.33,"m":8.85,"q3":9.57,"hi":11.5},{"s":2,"lo":5.5,"q1":7.52,"m":8.42,"q3":9.21,"hi":10.37},{"s":3,"lo":4.2,"q1":7.32,"m":8.42,"q3":9.32,"hi":10.63},{"s":4,"lo":7.42,"q1":7.52,"m":7.47,"q3":7.99,"hi":8.55}]},"encoding":{"x":{"field":"s","type":"quantitative"}},"layer":[{"mark":{"type":"rule","style":"thin"},"encoding":{"y":{"field":"lo","type":"quantitative"},"y2":{"field":"hi"}}},{"mark":{"type":"rule","style":"thick"},"encoding":{"y":{"field":"q1","type":"quantitative"},"y2":{"field":"q3"}}},{"mark":{"type":"circle","style":"med"},"encoding":{"y":{"field":"m","type":"quantitative"}}}]},
{"data":{"values":[{"a":0.537,"y":12.16,"t":"ALDH2"}]},"mark":{"type":"text","style":"gn"},"encoding":{"text":{"field":"t"}}},
{"data":{"values":[{"a":3.45,"y":12.16,"t":"=0.0003"}]},"layer":[{"mark":{"type":"text","style":"pi"},"encoding":{"text":{"value":"P"}}},{"mark":{"type":"text","style":"pv"},"encoding":{"text":{"field":"t"}}}]}]},
{"encoding":{"x":{"field":"a","type":"quantitative","scale":{"domain":[0.34,4.666],"range":[1600,1936]},"axis":{"orient":"bottom","offset":-85.7,"title":null,"values":[1,2,3,4],"labelExpr":"['','stage I','stage II','stage III','stage IV'][datum.value]","labelAngle":-35,"labelAlign":"center","labelBaseline":"middle","labelFontSize":21,"labelOffset":3,"labelPadding":30,"style":"va"}},"y":{"field":"y","type":"quantitative","scale":{"domain":[4.6,14.54],"range":[1275.3,1060]},"axis":{"orient":"left","offset":-1600,"title":null,"values":[6,8,10,12,14],"style":"va"}}},"layer":[
{"data":{"values":[{"a":0.34,"b":4.666,"y":4.6,"y2":14.54}]},"mark":{"type":"rect","fill":null,"stroke":"#444","strokeWidth":1.5},"encoding":{"x2":{"field":"b"},"y2":{"field":"y2"}}},
{"data":{"values":[{"s":1,"y":12.85,"a":0.98,"b":1.02},{"s":1,"y":12,"a":0.92,"b":1.08},{"s":1,"y":11,"a":0.78,"b":1.22},{"s":1,"y":10.2,"a":0.67,"b":1.33},{"s":1,"y":9.5,"a":0.6,"b":1.4},{"s":1,"y":8.8,"a":0.64,"b":1.36},{"s":1,"y":8,"a":0.75,"b":1.25},{"s":1,"y":7.2,"a":0.88,"b":1.12},{"s":1,"y":6.5,"a":0.96,"b":1.04},{"s":1,"y":6,"a":0.965,"b":1.035},
{"s":2,"y":12.85,"a":1.97,"b":2.03},{"s":2,"y":12,"a":1.88,"b":2.12},{"s":2,"y":11,"a":1.72,"b":2.28},{"s":2,"y":10,"a":1.63,"b":2.37},{"s":2,"y":9,"a":1.62,"b":2.38},{"s":2,"y":8.4,"a":1.6,"b":2.4},{"s":2,"y":7.8,"a":1.67,"b":2.33},{"s":2,"y":7,"a":1.82,"b":2.18},{"s":2,"y":6.4,"a":1.9,"b":2.1},{"s":2,"y":5.95,"a":1.89,"b":2.11},
{"s":3,"y":12.75,"a":2.96,"b":3.04},{"s":3,"y":12,"a":2.86,"b":3.14},{"s":3,"y":11,"a":2.73,"b":3.27},{"s":3,"y":10,"a":2.63,"b":3.37},{"s":3,"y":9,"a":2.6,"b":3.4},{"s":3,"y":8,"a":2.62,"b":3.38},{"s":3,"y":7,"a":2.76,"b":3.24},{"s":3,"y":6,"a":2.89,"b":3.11},{"s":3,"y":5,"a":2.94,"b":3.06},
{"s":4,"y":9.65,"a":3.6,"b":4.4},{"s":4,"y":9,"a":3.62,"b":4.38},{"s":4,"y":8.4,"a":3.67,"b":4.33},{"s":4,"y":7.8,"a":3.68,"b":4.32},{"s":4,"y":7.3,"a":3.7,"b":4.3}]},"mark":"area","encoding":{"x2":{"field":"b"},"detail":{"field":"s"}}},
{"data":{"values":[{"s":1,"lo":6,"q1":8.31,"m":9.32,"q3":10.18,"hi":12.85},{"s":2,"lo":5.95,"q1":7.91,"m":9,"q3":10.22,"hi":12.85},{"s":3,"lo":5,"q1":7.49,"m":8.88,"q3":10.15,"hi":12.75},{"s":4,"lo":7.3,"q1":7.49,"m":8.92,"q3":9.57,"hi":9.65}]},"encoding":{"x":{"field":"s","type":"quantitative"}},"layer":[{"mark":{"type":"rule","style":"thin"},"encoding":{"y":{"field":"lo","type":"quantitative"},"y2":{"field":"hi"}}},{"mark":{"type":"rule","style":"thick"},"encoding":{"y":{"field":"q1","type":"quantitative"},"y2":{"field":"q3"}}},{"mark":{"type":"circle","style":"med"},"encoding":{"y":{"field":"m","type":"quantitative"}}}]},
{"data":{"values":[{"a":0.503,"y":13.72,"t":"DCXR"}]},"mark":{"type":"text","style":"gn"},"encoding":{"text":{"field":"t"}}},
{"data":{"values":[{"a":3.59,"y":13.72,"t":"=0.055"}]},"layer":[{"mark":{"type":"text","style":"pi"},"encoding":{"text":{"value":"P"}}},{"mark":{"type":"text","style":"pv"},"encoding":{"text":{"field":"t"}}}]}]}
]}
